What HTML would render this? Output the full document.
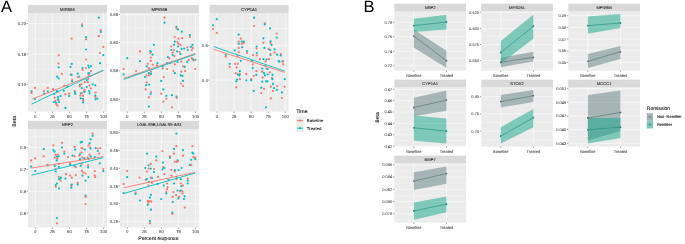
<!DOCTYPE html>
<html><head><meta charset="utf-8"><style>
html,body{margin:0;padding:0;background:#fff;}
svg{display:block;will-change:transform;text-rendering:geometricPrecision;font-family:"Liberation Sans",sans-serif;}
</style></head><body>
<svg width="685" height="244" viewBox="0 0 685 244">
<rect width="685" height="244" fill="#fff"/>

<g>
<rect x="27.90" y="13.10" width="79.00" height="98.50" fill="#EBEBEB" />
<clipPath id="cA00"><rect x="27.9" y="13.1" width="79.0" height="98.5"/></clipPath>
<g clip-path="url(#cA00)">
<line x1="27.90" y1="38.88" x2="106.90" y2="38.88" stroke="#fff" stroke-width="0.3" />
<line x1="27.90" y1="69.23" x2="106.90" y2="69.23" stroke="#fff" stroke-width="0.3" />
<line x1="27.90" y1="99.58" x2="106.90" y2="99.58" stroke="#fff" stroke-width="0.3" />
<line x1="27.90" y1="23.70" x2="106.90" y2="23.70" stroke="#fff" stroke-width="0.6" />
<line x1="27.90" y1="54.05" x2="106.90" y2="54.05" stroke="#fff" stroke-width="0.6" />
<line x1="27.90" y1="84.40" x2="106.90" y2="84.40" stroke="#fff" stroke-width="0.6" />
<line x1="43.84" y1="13.10" x2="43.84" y2="111.60" stroke="#fff" stroke-width="0.3" />
<line x1="60.91" y1="13.10" x2="60.91" y2="111.60" stroke="#fff" stroke-width="0.3" />
<line x1="77.99" y1="13.10" x2="77.99" y2="111.60" stroke="#fff" stroke-width="0.3" />
<line x1="95.06" y1="13.10" x2="95.06" y2="111.60" stroke="#fff" stroke-width="0.3" />
<line x1="35.30" y1="13.10" x2="35.30" y2="111.60" stroke="#fff" stroke-width="0.6" />
<line x1="52.38" y1="13.10" x2="52.38" y2="111.60" stroke="#fff" stroke-width="0.6" />
<line x1="69.45" y1="13.10" x2="69.45" y2="111.60" stroke="#fff" stroke-width="0.6" />
<line x1="86.53" y1="13.10" x2="86.53" y2="111.60" stroke="#fff" stroke-width="0.6" />
<line x1="103.60" y1="13.10" x2="103.60" y2="111.60" stroke="#fff" stroke-width="0.6" />
<circle cx="98.8" cy="17.7" r="1.1" fill="#00BFC4"/>
<circle cx="82.0" cy="24.3" r="1.1" fill="#F8766D"/>
<circle cx="82.0" cy="26.0" r="1.1" fill="#00BFC4"/>
<circle cx="100.8" cy="30.1" r="1.1" fill="#F8766D"/>
<circle cx="100.8" cy="31.9" r="1.1" fill="#00BFC4"/>
<circle cx="98.8" cy="36.2" r="1.1" fill="#F8766D"/>
<circle cx="86.1" cy="37.2" r="1.1" fill="#00BFC4"/>
<circle cx="71.7" cy="38.7" r="1.1" fill="#F8766D"/>
<circle cx="86.1" cy="39.3" r="1.1" fill="#F8766D"/>
<circle cx="103.3" cy="46.9" r="1.1" fill="#F8766D"/>
<circle cx="86.1" cy="49.5" r="1.1" fill="#00BFC4"/>
<circle cx="100.0" cy="53.0" r="1.1" fill="#F8766D"/>
<circle cx="103.3" cy="55.1" r="1.1" fill="#00BFC4"/>
<circle cx="58.8" cy="55.3" r="1.1" fill="#F8766D"/>
<circle cx="86.1" cy="59.6" r="1.1" fill="#F8766D"/>
<circle cx="58.5" cy="63.5" r="1.1" fill="#F8766D"/>
<circle cx="58.7" cy="67.3" r="1.1" fill="#00BFC4"/>
<circle cx="61.8" cy="73.9" r="1.1" fill="#F8766D"/>
<circle cx="57.1" cy="76.7" r="1.1" fill="#00BFC4"/>
<circle cx="58.7" cy="78.3" r="1.1" fill="#00BFC4"/>
<circle cx="64.3" cy="85.6" r="1.1" fill="#F8766D"/>
<circle cx="71.8" cy="63.9" r="1.1" fill="#00BFC4"/>
<circle cx="70.5" cy="66.9" r="1.1" fill="#00BFC4"/>
<circle cx="100.1" cy="63.2" r="1.1" fill="#00BFC4"/>
<circle cx="88.3" cy="65.5" r="1.1" fill="#00BFC4"/>
<circle cx="91.0" cy="66.2" r="1.1" fill="#00BFC4"/>
<circle cx="88.9" cy="67.5" r="1.1" fill="#00BFC4"/>
<circle cx="82.5" cy="68.0" r="1.1" fill="#00BFC4"/>
<circle cx="86.0" cy="68.0" r="1.1" fill="#F8766D"/>
<circle cx="82.5" cy="69.9" r="1.1" fill="#F8766D"/>
<circle cx="91.0" cy="70.9" r="1.1" fill="#F8766D"/>
<circle cx="77.7" cy="73.7" r="1.1" fill="#00BFC4"/>
<circle cx="70.7" cy="74.4" r="1.1" fill="#F8766D"/>
<circle cx="71.5" cy="74.9" r="1.1" fill="#00BFC4"/>
<circle cx="88.3" cy="73.7" r="1.1" fill="#00BFC4"/>
<circle cx="89.4" cy="73.0" r="1.1" fill="#00BFC4"/>
<circle cx="88.9" cy="74.9" r="1.1" fill="#F8766D"/>
<circle cx="79.3" cy="76.5" r="1.1" fill="#00BFC4"/>
<circle cx="77.7" cy="77.3" r="1.1" fill="#F8766D"/>
<circle cx="72.1" cy="80.0" r="1.1" fill="#F8766D"/>
<circle cx="72.1" cy="81.3" r="1.1" fill="#00BFC4"/>
<circle cx="88.3" cy="79.0" r="1.1" fill="#F8766D"/>
<circle cx="86.7" cy="80.1" r="1.1" fill="#00BFC4"/>
<circle cx="87.8" cy="81.9" r="1.1" fill="#F8766D"/>
<circle cx="84.6" cy="82.2" r="1.1" fill="#F8766D"/>
<circle cx="79.8" cy="85.1" r="1.1" fill="#00BFC4"/>
<circle cx="81.4" cy="84.3" r="1.1" fill="#F8766D"/>
<circle cx="89.4" cy="85.6" r="1.1" fill="#F8766D"/>
<circle cx="92.6" cy="84.3" r="1.1" fill="#00BFC4"/>
<circle cx="95.3" cy="85.4" r="1.1" fill="#00BFC4"/>
<circle cx="31.5" cy="91.3" r="1.1" fill="#00BFC4"/>
<circle cx="31.5" cy="92.9" r="1.1" fill="#F8766D"/>
<circle cx="35.0" cy="87.9" r="1.1" fill="#F8766D"/>
<circle cx="44.1" cy="90.8" r="1.1" fill="#F8766D"/>
<circle cx="44.1" cy="93.5" r="1.1" fill="#00BFC4"/>
<circle cx="47.8" cy="87.9" r="1.1" fill="#F8766D"/>
<circle cx="47.8" cy="91.5" r="1.1" fill="#00BFC4"/>
<circle cx="53.1" cy="89.2" r="1.1" fill="#F8766D"/>
<circle cx="57.9" cy="91.9" r="1.1" fill="#F8766D"/>
<circle cx="56.9" cy="91.1" r="1.1" fill="#00BFC4"/>
<circle cx="54.2" cy="94.0" r="1.1" fill="#00BFC4"/>
<circle cx="63.8" cy="90.8" r="1.1" fill="#00BFC4"/>
<circle cx="65.4" cy="94.3" r="1.1" fill="#F8766D"/>
<circle cx="60.6" cy="96.1" r="1.1" fill="#00BFC4"/>
<circle cx="35.0" cy="99.0" r="1.1" fill="#00BFC4"/>
<circle cx="54.7" cy="97.7" r="1.1" fill="#F8766D"/>
<circle cx="57.9" cy="97.2" r="1.1" fill="#00BFC4"/>
<circle cx="58.5" cy="99.7" r="1.1" fill="#F8766D"/>
<circle cx="57.9" cy="99.7" r="1.1" fill="#00BFC4"/>
<circle cx="55.3" cy="100.9" r="1.1" fill="#F8766D"/>
<circle cx="53.7" cy="102.0" r="1.1" fill="#00BFC4"/>
<circle cx="59.0" cy="102.0" r="1.1" fill="#00BFC4"/>
<circle cx="55.8" cy="102.5" r="1.1" fill="#00BFC4"/>
<circle cx="56.3" cy="104.1" r="1.1" fill="#F8766D"/>
<circle cx="57.4" cy="105.7" r="1.1" fill="#F8766D"/>
<circle cx="65.4" cy="107.9" r="1.1" fill="#00BFC4"/>
<circle cx="67.5" cy="86.5" r="1.1" fill="#00BFC4"/>
<circle cx="79.8" cy="86.5" r="1.1" fill="#F8766D"/>
<circle cx="81.9" cy="88.1" r="1.1" fill="#00BFC4"/>
<circle cx="86.7" cy="87.1" r="1.1" fill="#00BFC4"/>
<circle cx="91.0" cy="88.3" r="1.1" fill="#F8766D"/>
<circle cx="84.6" cy="89.7" r="1.1" fill="#F8766D"/>
<circle cx="84.1" cy="91.3" r="1.1" fill="#F8766D"/>
<circle cx="84.6" cy="91.9" r="1.1" fill="#00BFC4"/>
<circle cx="74.7" cy="91.1" r="1.1" fill="#F8766D"/>
<circle cx="75.0" cy="92.6" r="1.1" fill="#00BFC4"/>
<circle cx="75.3" cy="94.0" r="1.1" fill="#00BFC4"/>
<circle cx="69.1" cy="93.7" r="1.1" fill="#F8766D"/>
<circle cx="69.1" cy="96.1" r="1.1" fill="#00BFC4"/>
<circle cx="89.2" cy="91.1" r="1.1" fill="#00BFC4"/>
<circle cx="89.6" cy="93.3" r="1.1" fill="#00BFC4"/>
<circle cx="80.9" cy="93.3" r="1.1" fill="#00BFC4"/>
<circle cx="81.9" cy="93.3" r="1.1" fill="#F8766D"/>
<circle cx="80.3" cy="95.6" r="1.1" fill="#F8766D"/>
<circle cx="83.0" cy="95.8" r="1.1" fill="#F8766D"/>
<circle cx="80.7" cy="98.3" r="1.1" fill="#00BFC4"/>
<circle cx="83.0" cy="98.8" r="1.1" fill="#00BFC4"/>
<circle cx="83.0" cy="100.7" r="1.1" fill="#F8766D"/>
<circle cx="83.0" cy="102.5" r="1.1" fill="#00BFC4"/>
<circle cx="95.6" cy="92.6" r="1.1" fill="#F8766D"/>
<circle cx="95.3" cy="95.6" r="1.1" fill="#00BFC4"/>
<circle cx="95.3" cy="97.2" r="1.1" fill="#F8766D"/>
<circle cx="95.6" cy="99.3" r="1.1" fill="#00BFC4"/>
<circle cx="97.4" cy="98.6" r="1.1" fill="#00BFC4"/>
<line x1="31.80" y1="99.30" x2="103.30" y2="70.70" stroke="#F8766D" stroke-width="0.9" />
<line x1="31.50" y1="104.10" x2="103.30" y2="70.10" stroke="#00BFC4" stroke-width="0.9" />
</g>
<rect x="27.90" y="4.90" width="79.00" height="8.20" fill="#D9D9D9" />
<text x="67.40" y="10.50" font-size="4.2" fill="#1A1A1A" stroke="#1A1A1A" stroke-width="0.07" text-anchor="middle" >MIR596</text>
<line x1="26.60" y1="23.70" x2="27.90" y2="23.70" stroke="#555" stroke-width="0.6" />
<text x="26.10" y="25.20" font-size="4.3" fill="#4D4D4D" stroke="#4D4D4D" stroke-width="0.07" text-anchor="end" >0.20</text>
<line x1="26.60" y1="54.00" x2="27.90" y2="54.00" stroke="#555" stroke-width="0.6" />
<text x="26.10" y="55.50" font-size="4.3" fill="#4D4D4D" stroke="#4D4D4D" stroke-width="0.07" text-anchor="end" >0.15</text>
<line x1="26.60" y1="84.40" x2="27.90" y2="84.40" stroke="#555" stroke-width="0.6" />
<text x="26.10" y="85.90" font-size="4.3" fill="#4D4D4D" stroke="#4D4D4D" stroke-width="0.07" text-anchor="end" >0.10</text>
<line x1="35.30" y1="111.60" x2="35.30" y2="112.90" stroke="#555" stroke-width="0.6" />
<text x="35.30" y="117.50" font-size="4.3" fill="#4D4D4D" stroke="#4D4D4D" stroke-width="0.07" text-anchor="middle" >0</text>
<line x1="52.38" y1="111.60" x2="52.38" y2="112.90" stroke="#555" stroke-width="0.6" />
<text x="52.38" y="117.50" font-size="4.3" fill="#4D4D4D" stroke="#4D4D4D" stroke-width="0.07" text-anchor="middle" >25</text>
<line x1="69.45" y1="111.60" x2="69.45" y2="112.90" stroke="#555" stroke-width="0.6" />
<text x="69.45" y="117.50" font-size="4.3" fill="#4D4D4D" stroke="#4D4D4D" stroke-width="0.07" text-anchor="middle" >50</text>
<line x1="86.53" y1="111.60" x2="86.53" y2="112.90" stroke="#555" stroke-width="0.6" />
<text x="86.53" y="117.50" font-size="4.3" fill="#4D4D4D" stroke="#4D4D4D" stroke-width="0.07" text-anchor="middle" >75</text>
<line x1="103.60" y1="111.60" x2="103.60" y2="112.90" stroke="#555" stroke-width="0.6" />
<text x="103.60" y="117.50" font-size="4.3" fill="#4D4D4D" stroke="#4D4D4D" stroke-width="0.07" text-anchor="middle" >100</text>
</g>
<g>
<rect x="119.90" y="13.10" width="79.00" height="98.50" fill="#EBEBEB" />
<clipPath id="cA01"><rect x="119.9" y="13.1" width="79.0" height="98.5"/></clipPath>
<g clip-path="url(#cA01)">
<line x1="119.90" y1="28.53" x2="198.90" y2="28.53" stroke="#fff" stroke-width="0.3" />
<line x1="119.90" y1="56.80" x2="198.90" y2="56.80" stroke="#fff" stroke-width="0.3" />
<line x1="119.90" y1="85.07" x2="198.90" y2="85.07" stroke="#fff" stroke-width="0.3" />
<line x1="119.90" y1="14.40" x2="198.90" y2="14.40" stroke="#fff" stroke-width="0.6" />
<line x1="119.90" y1="42.67" x2="198.90" y2="42.67" stroke="#fff" stroke-width="0.6" />
<line x1="119.90" y1="70.93" x2="198.90" y2="70.93" stroke="#fff" stroke-width="0.6" />
<line x1="119.90" y1="99.20" x2="198.90" y2="99.20" stroke="#fff" stroke-width="0.6" />
<line x1="135.84" y1="13.10" x2="135.84" y2="111.60" stroke="#fff" stroke-width="0.3" />
<line x1="152.91" y1="13.10" x2="152.91" y2="111.60" stroke="#fff" stroke-width="0.3" />
<line x1="169.99" y1="13.10" x2="169.99" y2="111.60" stroke="#fff" stroke-width="0.3" />
<line x1="187.06" y1="13.10" x2="187.06" y2="111.60" stroke="#fff" stroke-width="0.3" />
<line x1="127.30" y1="13.10" x2="127.30" y2="111.60" stroke="#fff" stroke-width="0.6" />
<line x1="144.38" y1="13.10" x2="144.38" y2="111.60" stroke="#fff" stroke-width="0.6" />
<line x1="161.45" y1="13.10" x2="161.45" y2="111.60" stroke="#fff" stroke-width="0.6" />
<line x1="178.53" y1="13.10" x2="178.53" y2="111.60" stroke="#fff" stroke-width="0.6" />
<line x1="195.60" y1="13.10" x2="195.60" y2="111.60" stroke="#fff" stroke-width="0.6" />
<circle cx="164.5" cy="17.7" r="1.1" fill="#F8766D"/>
<circle cx="164.5" cy="22.7" r="1.1" fill="#00BFC4"/>
<circle cx="176.4" cy="26.8" r="1.1" fill="#00BFC4"/>
<circle cx="176.4" cy="28.4" r="1.1" fill="#F8766D"/>
<circle cx="178.1" cy="29.4" r="1.1" fill="#00BFC4"/>
<circle cx="181.8" cy="31.7" r="1.1" fill="#00BFC4"/>
<circle cx="189.8" cy="35.0" r="1.1" fill="#00BFC4"/>
<circle cx="189.8" cy="37.0" r="1.1" fill="#F8766D"/>
<circle cx="174.8" cy="37.0" r="1.1" fill="#F8766D"/>
<circle cx="178.5" cy="38.7" r="1.1" fill="#F8766D"/>
<circle cx="182.2" cy="38.1" r="1.1" fill="#F8766D"/>
<circle cx="174.8" cy="41.7" r="1.1" fill="#00BFC4"/>
<circle cx="177.5" cy="42.4" r="1.1" fill="#F8766D"/>
<circle cx="178.5" cy="43.8" r="1.1" fill="#F8766D"/>
<circle cx="153.9" cy="44.8" r="1.1" fill="#00BFC4"/>
<circle cx="171.3" cy="46.5" r="1.1" fill="#F8766D"/>
<circle cx="174.0" cy="44.8" r="1.1" fill="#00BFC4"/>
<circle cx="180.5" cy="45.2" r="1.1" fill="#F8766D"/>
<circle cx="178.1" cy="46.5" r="1.1" fill="#00BFC4"/>
<circle cx="181.6" cy="48.9" r="1.1" fill="#00BFC4"/>
<circle cx="184.2" cy="48.5" r="1.1" fill="#00BFC4"/>
<circle cx="187.3" cy="47.3" r="1.1" fill="#F8766D"/>
<circle cx="192.4" cy="44.8" r="1.1" fill="#00BFC4"/>
<circle cx="192.8" cy="47.9" r="1.1" fill="#F8766D"/>
<circle cx="190.8" cy="46.9" r="1.1" fill="#00BFC4"/>
<circle cx="187.7" cy="50.0" r="1.1" fill="#00BFC4"/>
<circle cx="191.8" cy="50.0" r="1.1" fill="#F8766D"/>
<circle cx="171.3" cy="50.0" r="1.1" fill="#00BFC4"/>
<circle cx="174.0" cy="50.0" r="1.1" fill="#F8766D"/>
<circle cx="177.1" cy="51.4" r="1.1" fill="#00BFC4"/>
<circle cx="179.5" cy="52.0" r="1.1" fill="#F8766D"/>
<circle cx="180.5" cy="54.1" r="1.1" fill="#00BFC4"/>
<circle cx="172.7" cy="52.6" r="1.1" fill="#F8766D"/>
<circle cx="172.7" cy="55.1" r="1.1" fill="#00BFC4"/>
<circle cx="174.4" cy="56.1" r="1.1" fill="#F8766D"/>
<circle cx="139.9" cy="51.4" r="1.1" fill="#F8766D"/>
<circle cx="150.2" cy="51.0" r="1.1" fill="#00BFC4"/>
<circle cx="150.8" cy="52.0" r="1.1" fill="#00BFC4"/>
<circle cx="150.2" cy="53.0" r="1.1" fill="#F8766D"/>
<circle cx="152.4" cy="54.7" r="1.1" fill="#00BFC4"/>
<circle cx="150.8" cy="57.5" r="1.1" fill="#F8766D"/>
<circle cx="150.8" cy="60.8" r="1.1" fill="#F8766D"/>
<circle cx="127.2" cy="58.2" r="1.1" fill="#00BFC4"/>
<circle cx="139.9" cy="61.2" r="1.1" fill="#00BFC4"/>
<circle cx="167.8" cy="57.1" r="1.1" fill="#00BFC4"/>
<circle cx="169.3" cy="58.2" r="1.1" fill="#F8766D"/>
<circle cx="192.8" cy="59.2" r="1.1" fill="#00BFC4"/>
<circle cx="195.3" cy="59.8" r="1.1" fill="#00BFC4"/>
<circle cx="191.8" cy="58.2" r="1.1" fill="#F8766D"/>
<circle cx="188.7" cy="60.2" r="1.1" fill="#F8766D"/>
<circle cx="147.8" cy="63.8" r="1.1" fill="#F8766D"/>
<circle cx="146.7" cy="66.4" r="1.1" fill="#00BFC4"/>
<circle cx="152.7" cy="64.7" r="1.1" fill="#F8766D"/>
<circle cx="157.4" cy="63.2" r="1.1" fill="#00BFC4"/>
<circle cx="157.0" cy="65.3" r="1.1" fill="#F8766D"/>
<circle cx="162.7" cy="66.4" r="1.1" fill="#00BFC4"/>
<circle cx="162.7" cy="68.5" r="1.1" fill="#F8766D"/>
<circle cx="167.0" cy="69.0" r="1.1" fill="#F8766D"/>
<circle cx="167.0" cy="63.2" r="1.1" fill="#00BFC4"/>
<circle cx="170.2" cy="63.2" r="1.1" fill="#F8766D"/>
<circle cx="174.9" cy="64.3" r="1.1" fill="#F8766D"/>
<circle cx="177.6" cy="62.1" r="1.1" fill="#00BFC4"/>
<circle cx="181.3" cy="61.7" r="1.1" fill="#F8766D"/>
<circle cx="187.2" cy="62.1" r="1.1" fill="#00BFC4"/>
<circle cx="193.6" cy="60.3" r="1.1" fill="#F8766D"/>
<circle cx="183.0" cy="66.4" r="1.1" fill="#F8766D"/>
<circle cx="184.7" cy="66.8" r="1.1" fill="#00BFC4"/>
<circle cx="123.7" cy="69.0" r="1.1" fill="#F8766D"/>
<circle cx="123.7" cy="74.5" r="1.1" fill="#00BFC4"/>
<circle cx="136.1" cy="71.1" r="1.1" fill="#F8766D"/>
<circle cx="148.9" cy="68.1" r="1.1" fill="#F8766D"/>
<circle cx="151.0" cy="71.7" r="1.1" fill="#F8766D"/>
<circle cx="148.9" cy="73.2" r="1.1" fill="#00BFC4"/>
<circle cx="151.0" cy="73.9" r="1.1" fill="#00BFC4"/>
<circle cx="146.7" cy="75.4" r="1.1" fill="#F8766D"/>
<circle cx="148.9" cy="75.4" r="1.1" fill="#F8766D"/>
<circle cx="145.0" cy="77.1" r="1.1" fill="#00BFC4"/>
<circle cx="173.4" cy="71.1" r="1.1" fill="#F8766D"/>
<circle cx="174.9" cy="73.2" r="1.1" fill="#00BFC4"/>
<circle cx="181.3" cy="71.7" r="1.1" fill="#F8766D"/>
<circle cx="185.1" cy="71.1" r="1.1" fill="#F8766D"/>
<circle cx="180.8" cy="75.4" r="1.1" fill="#00BFC4"/>
<circle cx="182.5" cy="76.0" r="1.1" fill="#00BFC4"/>
<circle cx="195.3" cy="69.0" r="1.1" fill="#F8766D"/>
<circle cx="163.8" cy="77.1" r="1.1" fill="#F8766D"/>
<circle cx="161.2" cy="80.9" r="1.1" fill="#00BFC4"/>
<circle cx="183.0" cy="80.9" r="1.1" fill="#00BFC4"/>
<circle cx="180.8" cy="83.5" r="1.1" fill="#F8766D"/>
<circle cx="183.0" cy="86.0" r="1.1" fill="#F8766D"/>
<circle cx="146.7" cy="82.4" r="1.1" fill="#F8766D"/>
<circle cx="146.3" cy="85.2" r="1.1" fill="#00BFC4"/>
<circle cx="149.3" cy="84.5" r="1.1" fill="#00BFC4"/>
<circle cx="145.7" cy="89.4" r="1.1" fill="#F8766D"/>
<circle cx="151.0" cy="92.0" r="1.1" fill="#F8766D"/>
<circle cx="150.6" cy="94.1" r="1.1" fill="#00BFC4"/>
<circle cx="148.9" cy="97.3" r="1.1" fill="#F8766D"/>
<circle cx="163.3" cy="89.4" r="1.1" fill="#00BFC4"/>
<circle cx="161.2" cy="93.7" r="1.1" fill="#F8766D"/>
<circle cx="166.3" cy="95.8" r="1.1" fill="#00BFC4"/>
<circle cx="166.3" cy="98.8" r="1.1" fill="#F8766D"/>
<circle cx="171.9" cy="95.2" r="1.1" fill="#00BFC4"/>
<circle cx="176.6" cy="96.7" r="1.1" fill="#00BFC4"/>
<circle cx="176.6" cy="98.0" r="1.1" fill="#F8766D"/>
<circle cx="163.3" cy="101.6" r="1.1" fill="#F8766D"/>
<circle cx="148.9" cy="106.5" r="1.1" fill="#00BFC4"/>
<circle cx="171.9" cy="107.3" r="1.1" fill="#F8766D"/>
<line x1="123.70" y1="78.30" x2="195.30" y2="53.60" stroke="#F8766D" stroke-width="0.9" />
<line x1="123.70" y1="79.40" x2="195.30" y2="54.30" stroke="#00BFC4" stroke-width="0.9" />
</g>
<rect x="119.90" y="4.90" width="79.00" height="8.20" fill="#D9D9D9" />
<text x="159.40" y="10.50" font-size="4.2" fill="#1A1A1A" stroke="#1A1A1A" stroke-width="0.07" text-anchor="middle" >MPIG6B</text>
<line x1="118.60" y1="14.40" x2="119.90" y2="14.40" stroke="#555" stroke-width="0.6" />
<text x="118.10" y="15.90" font-size="4.3" fill="#4D4D4D" stroke="#4D4D4D" stroke-width="0.07" text-anchor="end" >0.65</text>
<line x1="118.60" y1="42.60" x2="119.90" y2="42.60" stroke="#555" stroke-width="0.6" />
<text x="118.10" y="44.10" font-size="4.3" fill="#4D4D4D" stroke="#4D4D4D" stroke-width="0.07" text-anchor="end" >0.60</text>
<line x1="118.60" y1="70.90" x2="119.90" y2="70.90" stroke="#555" stroke-width="0.6" />
<text x="118.10" y="72.40" font-size="4.3" fill="#4D4D4D" stroke="#4D4D4D" stroke-width="0.07" text-anchor="end" >0.55</text>
<line x1="118.60" y1="99.20" x2="119.90" y2="99.20" stroke="#555" stroke-width="0.6" />
<text x="118.10" y="100.70" font-size="4.3" fill="#4D4D4D" stroke="#4D4D4D" stroke-width="0.07" text-anchor="end" >0.50</text>
<line x1="127.30" y1="111.60" x2="127.30" y2="112.90" stroke="#555" stroke-width="0.6" />
<text x="127.30" y="117.50" font-size="4.3" fill="#4D4D4D" stroke="#4D4D4D" stroke-width="0.07" text-anchor="middle" >0</text>
<line x1="144.38" y1="111.60" x2="144.38" y2="112.90" stroke="#555" stroke-width="0.6" />
<text x="144.38" y="117.50" font-size="4.3" fill="#4D4D4D" stroke="#4D4D4D" stroke-width="0.07" text-anchor="middle" >25</text>
<line x1="161.45" y1="111.60" x2="161.45" y2="112.90" stroke="#555" stroke-width="0.6" />
<text x="161.45" y="117.50" font-size="4.3" fill="#4D4D4D" stroke="#4D4D4D" stroke-width="0.07" text-anchor="middle" >50</text>
<line x1="178.53" y1="111.60" x2="178.53" y2="112.90" stroke="#555" stroke-width="0.6" />
<text x="178.53" y="117.50" font-size="4.3" fill="#4D4D4D" stroke="#4D4D4D" stroke-width="0.07" text-anchor="middle" >75</text>
<line x1="195.60" y1="111.60" x2="195.60" y2="112.90" stroke="#555" stroke-width="0.6" />
<text x="195.60" y="117.50" font-size="4.3" fill="#4D4D4D" stroke="#4D4D4D" stroke-width="0.07" text-anchor="middle" >100</text>
</g>
<g>
<rect x="209.60" y="13.10" width="79.00" height="98.50" fill="#EBEBEB" />
<clipPath id="cA02"><rect x="209.6" y="13.1" width="79.0" height="98.5"/></clipPath>
<g clip-path="url(#cA02)">
<line x1="209.60" y1="28.50" x2="288.60" y2="28.50" stroke="#fff" stroke-width="0.3" />
<line x1="209.60" y1="62.90" x2="288.60" y2="62.90" stroke="#fff" stroke-width="0.3" />
<line x1="209.60" y1="97.30" x2="288.60" y2="97.30" stroke="#fff" stroke-width="0.3" />
<line x1="209.60" y1="45.70" x2="288.60" y2="45.70" stroke="#fff" stroke-width="0.6" />
<line x1="209.60" y1="80.10" x2="288.60" y2="80.10" stroke="#fff" stroke-width="0.6" />
<line x1="225.54" y1="13.10" x2="225.54" y2="111.60" stroke="#fff" stroke-width="0.3" />
<line x1="242.61" y1="13.10" x2="242.61" y2="111.60" stroke="#fff" stroke-width="0.3" />
<line x1="259.69" y1="13.10" x2="259.69" y2="111.60" stroke="#fff" stroke-width="0.3" />
<line x1="276.76" y1="13.10" x2="276.76" y2="111.60" stroke="#fff" stroke-width="0.3" />
<line x1="217.00" y1="13.10" x2="217.00" y2="111.60" stroke="#fff" stroke-width="0.6" />
<line x1="234.07" y1="13.10" x2="234.07" y2="111.60" stroke="#fff" stroke-width="0.6" />
<line x1="251.15" y1="13.10" x2="251.15" y2="111.60" stroke="#fff" stroke-width="0.6" />
<line x1="268.23" y1="13.10" x2="268.23" y2="111.60" stroke="#fff" stroke-width="0.6" />
<line x1="285.30" y1="13.10" x2="285.30" y2="111.60" stroke="#fff" stroke-width="0.6" />
<circle cx="216.8" cy="19.2" r="1.1" fill="#00BFC4"/>
<circle cx="213.1" cy="25.3" r="1.1" fill="#00BFC4"/>
<circle cx="213.1" cy="29.0" r="1.1" fill="#F8766D"/>
<circle cx="216.8" cy="32.9" r="1.1" fill="#F8766D"/>
<circle cx="254.1" cy="17.7" r="1.1" fill="#00BFC4"/>
<circle cx="254.1" cy="26.0" r="1.1" fill="#F8766D"/>
<circle cx="264.8" cy="23.3" r="1.1" fill="#F8766D"/>
<circle cx="264.8" cy="24.3" r="1.1" fill="#00BFC4"/>
<circle cx="270.1" cy="28.4" r="1.1" fill="#00BFC4"/>
<circle cx="276.7" cy="33.5" r="1.1" fill="#F8766D"/>
<circle cx="276.7" cy="37.6" r="1.1" fill="#00BFC4"/>
<circle cx="238.7" cy="34.6" r="1.1" fill="#00BFC4"/>
<circle cx="240.8" cy="38.7" r="1.1" fill="#F8766D"/>
<circle cx="238.7" cy="41.7" r="1.1" fill="#F8766D"/>
<circle cx="238.7" cy="43.8" r="1.1" fill="#00BFC4"/>
<circle cx="241.8" cy="41.7" r="1.1" fill="#00BFC4"/>
<circle cx="243.9" cy="41.7" r="1.1" fill="#00BFC4"/>
<circle cx="241.8" cy="43.8" r="1.1" fill="#F8766D"/>
<circle cx="243.5" cy="43.2" r="1.1" fill="#F8766D"/>
<circle cx="263.4" cy="38.3" r="1.1" fill="#00BFC4"/>
<circle cx="263.4" cy="42.8" r="1.1" fill="#F8766D"/>
<circle cx="270.5" cy="41.3" r="1.1" fill="#00BFC4"/>
<circle cx="270.5" cy="42.8" r="1.1" fill="#F8766D"/>
<circle cx="271.6" cy="44.8" r="1.1" fill="#00BFC4"/>
<circle cx="238.7" cy="47.9" r="1.1" fill="#F8766D"/>
<circle cx="242.2" cy="47.3" r="1.1" fill="#00BFC4"/>
<circle cx="234.6" cy="50.4" r="1.1" fill="#00BFC4"/>
<circle cx="238.7" cy="52.0" r="1.1" fill="#F8766D"/>
<circle cx="256.6" cy="46.5" r="1.1" fill="#00BFC4"/>
<circle cx="256.6" cy="48.5" r="1.1" fill="#F8766D"/>
<circle cx="264.4" cy="47.9" r="1.1" fill="#00BFC4"/>
<circle cx="268.5" cy="48.9" r="1.1" fill="#F8766D"/>
<circle cx="270.1" cy="49.9" r="1.1" fill="#00BFC4"/>
<circle cx="274.6" cy="49.3" r="1.1" fill="#00BFC4"/>
<circle cx="274.6" cy="52.6" r="1.1" fill="#F8766D"/>
<circle cx="247.0" cy="51.0" r="1.1" fill="#00BFC4"/>
<circle cx="247.0" cy="53.0" r="1.1" fill="#F8766D"/>
<circle cx="256.8" cy="53.0" r="1.1" fill="#00BFC4"/>
<circle cx="256.8" cy="55.5" r="1.1" fill="#F8766D"/>
<circle cx="253.1" cy="55.1" r="1.1" fill="#F8766D"/>
<circle cx="225.8" cy="55.1" r="1.1" fill="#00BFC4"/>
<circle cx="225.8" cy="56.7" r="1.1" fill="#F8766D"/>
<circle cx="270.5" cy="55.1" r="1.1" fill="#00BFC4"/>
<circle cx="270.5" cy="54.1" r="1.1" fill="#F8766D"/>
<circle cx="277.1" cy="54.7" r="1.1" fill="#00BFC4"/>
<circle cx="280.8" cy="54.1" r="1.1" fill="#F8766D"/>
<circle cx="280.8" cy="55.5" r="1.1" fill="#00BFC4"/>
<circle cx="237.7" cy="56.1" r="1.1" fill="#F8766D"/>
<circle cx="240.8" cy="60.8" r="1.1" fill="#00BFC4"/>
<circle cx="252.1" cy="60.8" r="1.1" fill="#00BFC4"/>
<circle cx="259.9" cy="59.2" r="1.1" fill="#F8766D"/>
<circle cx="263.4" cy="59.2" r="1.1" fill="#00BFC4"/>
<circle cx="266.4" cy="59.6" r="1.1" fill="#00BFC4"/>
<circle cx="268.9" cy="59.2" r="1.1" fill="#F8766D"/>
<circle cx="278.7" cy="61.2" r="1.1" fill="#00BFC4"/>
<circle cx="282.8" cy="61.2" r="1.1" fill="#00BFC4"/>
<circle cx="229.7" cy="63.8" r="1.1" fill="#00BFC4"/>
<circle cx="229.7" cy="66.8" r="1.1" fill="#F8766D"/>
<circle cx="235.0" cy="63.8" r="1.1" fill="#F8766D"/>
<circle cx="237.8" cy="63.8" r="1.1" fill="#F8766D"/>
<circle cx="236.7" cy="67.5" r="1.1" fill="#F8766D"/>
<circle cx="239.9" cy="71.1" r="1.1" fill="#00BFC4"/>
<circle cx="235.7" cy="73.2" r="1.1" fill="#F8766D"/>
<circle cx="237.8" cy="74.5" r="1.1" fill="#00BFC4"/>
<circle cx="239.9" cy="73.9" r="1.1" fill="#F8766D"/>
<circle cx="239.3" cy="75.4" r="1.1" fill="#00BFC4"/>
<circle cx="239.9" cy="79.2" r="1.1" fill="#F8766D"/>
<circle cx="237.1" cy="79.6" r="1.1" fill="#00BFC4"/>
<circle cx="236.3" cy="81.3" r="1.1" fill="#00BFC4"/>
<circle cx="236.3" cy="87.3" r="1.1" fill="#F8766D"/>
<circle cx="246.3" cy="73.9" r="1.1" fill="#F8766D"/>
<circle cx="246.3" cy="80.3" r="1.1" fill="#00BFC4"/>
<circle cx="251.2" cy="79.2" r="1.1" fill="#F8766D"/>
<circle cx="251.2" cy="80.3" r="1.1" fill="#00BFC4"/>
<circle cx="252.7" cy="64.3" r="1.1" fill="#F8766D"/>
<circle cx="252.7" cy="68.1" r="1.1" fill="#00BFC4"/>
<circle cx="253.8" cy="76.0" r="1.1" fill="#F8766D"/>
<circle cx="256.3" cy="71.1" r="1.1" fill="#F8766D"/>
<circle cx="256.3" cy="74.9" r="1.1" fill="#00BFC4"/>
<circle cx="261.9" cy="71.7" r="1.1" fill="#F8766D"/>
<circle cx="262.3" cy="68.5" r="1.1" fill="#00BFC4"/>
<circle cx="262.7" cy="77.5" r="1.1" fill="#F8766D"/>
<circle cx="264.0" cy="73.2" r="1.1" fill="#00BFC4"/>
<circle cx="264.9" cy="75.4" r="1.1" fill="#00BFC4"/>
<circle cx="265.5" cy="61.6" r="1.1" fill="#F8766D"/>
<circle cx="265.5" cy="66.0" r="1.1" fill="#00BFC4"/>
<circle cx="266.6" cy="68.5" r="1.1" fill="#F8766D"/>
<circle cx="267.6" cy="69.0" r="1.1" fill="#00BFC4"/>
<circle cx="267.6" cy="74.5" r="1.1" fill="#00BFC4"/>
<circle cx="269.8" cy="72.4" r="1.1" fill="#F8766D"/>
<circle cx="272.5" cy="74.9" r="1.1" fill="#00BFC4"/>
<circle cx="271.9" cy="78.1" r="1.1" fill="#F8766D"/>
<circle cx="272.5" cy="79.2" r="1.1" fill="#00BFC4"/>
<circle cx="262.3" cy="81.7" r="1.1" fill="#00BFC4"/>
<circle cx="266.1" cy="81.3" r="1.1" fill="#00BFC4"/>
<circle cx="267.6" cy="81.3" r="1.1" fill="#00BFC4"/>
<circle cx="273.0" cy="83.9" r="1.1" fill="#00BFC4"/>
<circle cx="270.8" cy="86.7" r="1.1" fill="#F8766D"/>
<circle cx="274.0" cy="88.1" r="1.1" fill="#00BFC4"/>
<circle cx="273.0" cy="90.9" r="1.1" fill="#F8766D"/>
<circle cx="277.2" cy="86.0" r="1.1" fill="#F8766D"/>
<circle cx="276.8" cy="89.9" r="1.1" fill="#00BFC4"/>
<circle cx="282.6" cy="61.7" r="1.1" fill="#F8766D"/>
<circle cx="279.4" cy="61.7" r="1.1" fill="#00BFC4"/>
<circle cx="283.2" cy="64.3" r="1.1" fill="#F8766D"/>
<circle cx="284.7" cy="79.2" r="1.1" fill="#00BFC4"/>
<circle cx="284.7" cy="86.7" r="1.1" fill="#F8766D"/>
<circle cx="281.9" cy="92.4" r="1.1" fill="#00BFC4"/>
<circle cx="281.9" cy="98.0" r="1.1" fill="#F8766D"/>
<circle cx="261.2" cy="87.7" r="1.1" fill="#00BFC4"/>
<circle cx="264.0" cy="88.8" r="1.1" fill="#F8766D"/>
<circle cx="261.2" cy="93.0" r="1.1" fill="#F8766D"/>
<circle cx="253.8" cy="90.9" r="1.1" fill="#00BFC4"/>
<circle cx="270.8" cy="98.4" r="1.1" fill="#F8766D"/>
<circle cx="266.1" cy="107.3" r="1.1" fill="#00BFC4"/>
<line x1="213.50" y1="49.30" x2="284.70" y2="72.40" stroke="#F8766D" stroke-width="0.9" />
<line x1="213.50" y1="46.50" x2="284.70" y2="71.10" stroke="#00BFC4" stroke-width="0.9" />
</g>
<rect x="209.60" y="4.90" width="79.00" height="8.20" fill="#D9D9D9" />
<text x="249.10" y="10.50" font-size="4.2" fill="#1A1A1A" stroke="#1A1A1A" stroke-width="0.07" text-anchor="middle" >CYP1A1</text>
<line x1="208.30" y1="45.70" x2="209.60" y2="45.70" stroke="#555" stroke-width="0.6" />
<text x="207.80" y="47.20" font-size="4.3" fill="#4D4D4D" stroke="#4D4D4D" stroke-width="0.07" text-anchor="end" >0.6</text>
<line x1="208.30" y1="80.10" x2="209.60" y2="80.10" stroke="#555" stroke-width="0.6" />
<text x="207.80" y="81.60" font-size="4.3" fill="#4D4D4D" stroke="#4D4D4D" stroke-width="0.07" text-anchor="end" >0.4</text>
<line x1="217.00" y1="111.60" x2="217.00" y2="112.90" stroke="#555" stroke-width="0.6" />
<text x="217.00" y="117.50" font-size="4.3" fill="#4D4D4D" stroke="#4D4D4D" stroke-width="0.07" text-anchor="middle" >0</text>
<line x1="234.07" y1="111.60" x2="234.07" y2="112.90" stroke="#555" stroke-width="0.6" />
<text x="234.07" y="117.50" font-size="4.3" fill="#4D4D4D" stroke="#4D4D4D" stroke-width="0.07" text-anchor="middle" >25</text>
<line x1="251.15" y1="111.60" x2="251.15" y2="112.90" stroke="#555" stroke-width="0.6" />
<text x="251.15" y="117.50" font-size="4.3" fill="#4D4D4D" stroke="#4D4D4D" stroke-width="0.07" text-anchor="middle" >50</text>
<line x1="268.23" y1="111.60" x2="268.23" y2="112.90" stroke="#555" stroke-width="0.6" />
<text x="268.23" y="117.50" font-size="4.3" fill="#4D4D4D" stroke="#4D4D4D" stroke-width="0.07" text-anchor="middle" >75</text>
<line x1="285.30" y1="111.60" x2="285.30" y2="112.90" stroke="#555" stroke-width="0.6" />
<text x="285.30" y="117.50" font-size="4.3" fill="#4D4D4D" stroke="#4D4D4D" stroke-width="0.07" text-anchor="middle" >100</text>
</g>
<g>
<rect x="27.90" y="129.00" width="79.00" height="98.50" fill="#EBEBEB" />
<clipPath id="cA10"><rect x="27.9" y="129.0" width="79.0" height="98.5"/></clipPath>
<g clip-path="url(#cA10)">
<line x1="27.90" y1="136.67" x2="106.90" y2="136.67" stroke="#fff" stroke-width="0.3" />
<line x1="27.90" y1="158.53" x2="106.90" y2="158.53" stroke="#fff" stroke-width="0.3" />
<line x1="27.90" y1="180.40" x2="106.90" y2="180.40" stroke="#fff" stroke-width="0.3" />
<line x1="27.90" y1="202.27" x2="106.90" y2="202.27" stroke="#fff" stroke-width="0.3" />
<line x1="27.90" y1="224.13" x2="106.90" y2="224.13" stroke="#fff" stroke-width="0.3" />
<line x1="27.90" y1="147.60" x2="106.90" y2="147.60" stroke="#fff" stroke-width="0.6" />
<line x1="27.90" y1="169.47" x2="106.90" y2="169.47" stroke="#fff" stroke-width="0.6" />
<line x1="27.90" y1="191.33" x2="106.90" y2="191.33" stroke="#fff" stroke-width="0.6" />
<line x1="27.90" y1="213.20" x2="106.90" y2="213.20" stroke="#fff" stroke-width="0.6" />
<line x1="43.84" y1="129.00" x2="43.84" y2="227.50" stroke="#fff" stroke-width="0.3" />
<line x1="60.91" y1="129.00" x2="60.91" y2="227.50" stroke="#fff" stroke-width="0.3" />
<line x1="77.99" y1="129.00" x2="77.99" y2="227.50" stroke="#fff" stroke-width="0.3" />
<line x1="95.06" y1="129.00" x2="95.06" y2="227.50" stroke="#fff" stroke-width="0.3" />
<line x1="35.30" y1="129.00" x2="35.30" y2="227.50" stroke="#fff" stroke-width="0.6" />
<line x1="52.38" y1="129.00" x2="52.38" y2="227.50" stroke="#fff" stroke-width="0.6" />
<line x1="69.45" y1="129.00" x2="69.45" y2="227.50" stroke="#fff" stroke-width="0.6" />
<line x1="86.53" y1="129.00" x2="86.53" y2="227.50" stroke="#fff" stroke-width="0.6" />
<line x1="103.60" y1="129.00" x2="103.60" y2="227.50" stroke="#fff" stroke-width="0.6" />
<circle cx="31.1" cy="160.4" r="1.1" fill="#F8766D"/>
<circle cx="31.1" cy="166.6" r="1.1" fill="#00BFC4"/>
<circle cx="35.2" cy="158.4" r="1.1" fill="#F8766D"/>
<circle cx="35.2" cy="171.1" r="1.1" fill="#00BFC4"/>
<circle cx="43.8" cy="148.9" r="1.1" fill="#00BFC4"/>
<circle cx="43.8" cy="156.3" r="1.1" fill="#F8766D"/>
<circle cx="47.5" cy="164.9" r="1.1" fill="#F8766D"/>
<circle cx="47.5" cy="165.5" r="1.1" fill="#00BFC4"/>
<circle cx="53.3" cy="145.4" r="1.1" fill="#F8766D"/>
<circle cx="53.3" cy="150.2" r="1.1" fill="#00BFC4"/>
<circle cx="54.7" cy="151.6" r="1.1" fill="#00BFC4"/>
<circle cx="54.7" cy="157.7" r="1.1" fill="#F8766D"/>
<circle cx="55.7" cy="154.7" r="1.1" fill="#F8766D"/>
<circle cx="56.7" cy="156.7" r="1.1" fill="#00BFC4"/>
<circle cx="57.8" cy="154.7" r="1.1" fill="#F8766D"/>
<circle cx="58.8" cy="156.3" r="1.1" fill="#00BFC4"/>
<circle cx="57.4" cy="158.4" r="1.1" fill="#F8766D"/>
<circle cx="56.7" cy="160.4" r="1.1" fill="#00BFC4"/>
<circle cx="54.7" cy="166.0" r="1.1" fill="#00BFC4"/>
<circle cx="58.8" cy="163.9" r="1.1" fill="#F8766D"/>
<circle cx="58.8" cy="167.0" r="1.1" fill="#00BFC4"/>
<circle cx="55.7" cy="169.0" r="1.1" fill="#F8766D"/>
<circle cx="55.7" cy="171.5" r="1.1" fill="#00BFC4"/>
<circle cx="61.9" cy="142.8" r="1.1" fill="#F8766D"/>
<circle cx="61.9" cy="147.5" r="1.1" fill="#00BFC4"/>
<circle cx="64.3" cy="151.6" r="1.1" fill="#F8766D"/>
<circle cx="64.3" cy="153.6" r="1.1" fill="#00BFC4"/>
<circle cx="68.0" cy="157.1" r="1.1" fill="#F8766D"/>
<circle cx="70.1" cy="164.9" r="1.1" fill="#00BFC4"/>
<circle cx="70.1" cy="163.3" r="1.1" fill="#F8766D"/>
<circle cx="72.5" cy="155.7" r="1.1" fill="#00BFC4"/>
<circle cx="74.6" cy="156.3" r="1.1" fill="#F8766D"/>
<circle cx="74.6" cy="146.9" r="1.1" fill="#F8766D"/>
<circle cx="75.2" cy="149.5" r="1.1" fill="#00BFC4"/>
<circle cx="74.6" cy="166.0" r="1.1" fill="#00BFC4"/>
<circle cx="75.8" cy="167.0" r="1.1" fill="#F8766D"/>
<circle cx="80.7" cy="142.4" r="1.1" fill="#00BFC4"/>
<circle cx="82.0" cy="141.9" r="1.1" fill="#00BFC4"/>
<circle cx="81.4" cy="148.1" r="1.1" fill="#F8766D"/>
<circle cx="82.8" cy="148.5" r="1.1" fill="#F8766D"/>
<circle cx="84.8" cy="149.5" r="1.1" fill="#00BFC4"/>
<circle cx="81.4" cy="152.6" r="1.1" fill="#F8766D"/>
<circle cx="79.9" cy="154.3" r="1.1" fill="#00BFC4"/>
<circle cx="79.3" cy="155.7" r="1.1" fill="#F8766D"/>
<circle cx="79.9" cy="159.2" r="1.1" fill="#00BFC4"/>
<circle cx="82.4" cy="157.7" r="1.1" fill="#F8766D"/>
<circle cx="84.4" cy="158.4" r="1.1" fill="#00BFC4"/>
<circle cx="81.4" cy="163.9" r="1.1" fill="#F8766D"/>
<circle cx="80.7" cy="166.0" r="1.1" fill="#00BFC4"/>
<circle cx="82.0" cy="170.7" r="1.1" fill="#F8766D"/>
<circle cx="83.4" cy="172.7" r="1.1" fill="#F8766D"/>
<circle cx="85.5" cy="173.5" r="1.1" fill="#F8766D"/>
<circle cx="82.4" cy="175.6" r="1.1" fill="#00BFC4"/>
<circle cx="92.6" cy="133.7" r="1.1" fill="#F8766D"/>
<circle cx="92.6" cy="135.8" r="1.1" fill="#00BFC4"/>
<circle cx="90.6" cy="139.3" r="1.1" fill="#00BFC4"/>
<circle cx="89.6" cy="143.4" r="1.1" fill="#00BFC4"/>
<circle cx="88.5" cy="145.4" r="1.1" fill="#F8766D"/>
<circle cx="90.2" cy="147.5" r="1.1" fill="#F8766D"/>
<circle cx="90.6" cy="148.5" r="1.1" fill="#00BFC4"/>
<circle cx="89.6" cy="154.7" r="1.1" fill="#F8766D"/>
<circle cx="90.6" cy="156.7" r="1.1" fill="#00BFC4"/>
<circle cx="87.5" cy="157.7" r="1.1" fill="#F8766D"/>
<circle cx="88.5" cy="158.8" r="1.1" fill="#00BFC4"/>
<circle cx="88.1" cy="165.3" r="1.1" fill="#F8766D"/>
<circle cx="88.1" cy="167.4" r="1.1" fill="#00BFC4"/>
<circle cx="95.7" cy="148.1" r="1.1" fill="#00BFC4"/>
<circle cx="97.8" cy="148.5" r="1.1" fill="#F8766D"/>
<circle cx="97.8" cy="151.0" r="1.1" fill="#00BFC4"/>
<circle cx="99.2" cy="153.6" r="1.1" fill="#F8766D"/>
<circle cx="100.4" cy="148.1" r="1.1" fill="#F8766D"/>
<circle cx="99.8" cy="163.3" r="1.1" fill="#00BFC4"/>
<circle cx="103.3" cy="169.0" r="1.1" fill="#F8766D"/>
<circle cx="103.3" cy="171.1" r="1.1" fill="#00BFC4"/>
<circle cx="94.7" cy="171.1" r="1.1" fill="#F8766D"/>
<circle cx="94.7" cy="157.1" r="1.1" fill="#00BFC4"/>
<circle cx="58.8" cy="176.8" r="1.1" fill="#F8766D"/>
<circle cx="66.0" cy="174.2" r="1.1" fill="#F8766D"/>
<circle cx="70.1" cy="175.6" r="1.1" fill="#F8766D"/>
<circle cx="75.8" cy="175.2" r="1.1" fill="#F8766D"/>
<circle cx="60.8" cy="177.6" r="1.1" fill="#00BFC4"/>
<circle cx="94.7" cy="175.6" r="1.1" fill="#F8766D"/>
<circle cx="59.0" cy="179.2" r="1.1" fill="#00BFC4"/>
<circle cx="60.7" cy="180.7" r="1.1" fill="#F8766D"/>
<circle cx="60.7" cy="178.1" r="1.1" fill="#00BFC4"/>
<circle cx="65.4" cy="178.6" r="1.1" fill="#00BFC4"/>
<circle cx="71.8" cy="177.7" r="1.1" fill="#F8766D"/>
<circle cx="56.9" cy="183.5" r="1.1" fill="#00BFC4"/>
<circle cx="55.8" cy="185.0" r="1.1" fill="#00BFC4"/>
<circle cx="55.8" cy="186.7" r="1.1" fill="#F8766D"/>
<circle cx="59.0" cy="188.4" r="1.1" fill="#00BFC4"/>
<circle cx="71.3" cy="185.6" r="1.1" fill="#F8766D"/>
<circle cx="71.8" cy="184.5" r="1.1" fill="#00BFC4"/>
<circle cx="71.3" cy="187.7" r="1.1" fill="#00BFC4"/>
<circle cx="77.7" cy="182.8" r="1.1" fill="#F8766D"/>
<circle cx="77.7" cy="184.5" r="1.1" fill="#00BFC4"/>
<circle cx="85.6" cy="180.7" r="1.1" fill="#00BFC4"/>
<circle cx="88.4" cy="177.1" r="1.1" fill="#00BFC4"/>
<circle cx="95.2" cy="177.1" r="1.1" fill="#F8766D"/>
<circle cx="85.6" cy="195.6" r="1.1" fill="#00BFC4"/>
<circle cx="85.6" cy="196.9" r="1.1" fill="#F8766D"/>
<circle cx="85.6" cy="204.1" r="1.1" fill="#F8766D"/>
<circle cx="56.9" cy="218.0" r="1.1" fill="#00BFC4"/>
<circle cx="56.9" cy="223.3" r="1.1" fill="#F8766D"/>
<line x1="31.50" y1="168.00" x2="103.30" y2="156.70" stroke="#F8766D" stroke-width="0.9" />
<line x1="31.50" y1="175.20" x2="103.30" y2="157.70" stroke="#00BFC4" stroke-width="0.9" />
</g>
<rect x="27.90" y="120.80" width="79.00" height="8.20" fill="#D9D9D9" />
<text x="67.40" y="126.40" font-size="4.2" fill="#1A1A1A" stroke="#1A1A1A" stroke-width="0.07" text-anchor="middle" >NRP2</text>
<line x1="26.60" y1="147.60" x2="27.90" y2="147.60" stroke="#555" stroke-width="0.6" />
<text x="26.10" y="149.10" font-size="4.3" fill="#4D4D4D" stroke="#4D4D4D" stroke-width="0.07" text-anchor="end" >0.8</text>
<line x1="26.60" y1="169.40" x2="27.90" y2="169.40" stroke="#555" stroke-width="0.6" />
<text x="26.10" y="170.90" font-size="4.3" fill="#4D4D4D" stroke="#4D4D4D" stroke-width="0.07" text-anchor="end" >0.7</text>
<line x1="26.60" y1="191.30" x2="27.90" y2="191.30" stroke="#555" stroke-width="0.6" />
<text x="26.10" y="192.80" font-size="4.3" fill="#4D4D4D" stroke="#4D4D4D" stroke-width="0.07" text-anchor="end" >0.6</text>
<line x1="26.60" y1="213.20" x2="27.90" y2="213.20" stroke="#555" stroke-width="0.6" />
<text x="26.10" y="214.70" font-size="4.3" fill="#4D4D4D" stroke="#4D4D4D" stroke-width="0.07" text-anchor="end" >0.5</text>
<line x1="35.30" y1="227.50" x2="35.30" y2="228.80" stroke="#555" stroke-width="0.6" />
<text x="35.30" y="233.40" font-size="4.3" fill="#4D4D4D" stroke="#4D4D4D" stroke-width="0.07" text-anchor="middle" >0</text>
<line x1="52.38" y1="227.50" x2="52.38" y2="228.80" stroke="#555" stroke-width="0.6" />
<text x="52.38" y="233.40" font-size="4.3" fill="#4D4D4D" stroke="#4D4D4D" stroke-width="0.07" text-anchor="middle" >25</text>
<line x1="69.45" y1="227.50" x2="69.45" y2="228.80" stroke="#555" stroke-width="0.6" />
<text x="69.45" y="233.40" font-size="4.3" fill="#4D4D4D" stroke="#4D4D4D" stroke-width="0.07" text-anchor="middle" >50</text>
<line x1="86.53" y1="227.50" x2="86.53" y2="228.80" stroke="#555" stroke-width="0.6" />
<text x="86.53" y="233.40" font-size="4.3" fill="#4D4D4D" stroke="#4D4D4D" stroke-width="0.07" text-anchor="middle" >75</text>
<line x1="103.60" y1="227.50" x2="103.60" y2="228.80" stroke="#555" stroke-width="0.6" />
<text x="103.60" y="233.40" font-size="4.3" fill="#4D4D4D" stroke="#4D4D4D" stroke-width="0.07" text-anchor="middle" >100</text>
</g>
<g>
<rect x="119.90" y="129.00" width="79.00" height="98.50" fill="#EBEBEB" />
<clipPath id="cA11"><rect x="119.9" y="129.0" width="79.0" height="98.5"/></clipPath>
<g clip-path="url(#cA11)">
<line x1="119.90" y1="141.50" x2="198.90" y2="141.50" stroke="#fff" stroke-width="0.3" />
<line x1="119.90" y1="159.30" x2="198.90" y2="159.30" stroke="#fff" stroke-width="0.3" />
<line x1="119.90" y1="177.10" x2="198.90" y2="177.10" stroke="#fff" stroke-width="0.3" />
<line x1="119.90" y1="194.90" x2="198.90" y2="194.90" stroke="#fff" stroke-width="0.3" />
<line x1="119.90" y1="212.70" x2="198.90" y2="212.70" stroke="#fff" stroke-width="0.3" />
<line x1="119.90" y1="132.60" x2="198.90" y2="132.60" stroke="#fff" stroke-width="0.6" />
<line x1="119.90" y1="150.40" x2="198.90" y2="150.40" stroke="#fff" stroke-width="0.6" />
<line x1="119.90" y1="168.20" x2="198.90" y2="168.20" stroke="#fff" stroke-width="0.6" />
<line x1="119.90" y1="186.00" x2="198.90" y2="186.00" stroke="#fff" stroke-width="0.6" />
<line x1="119.90" y1="203.80" x2="198.90" y2="203.80" stroke="#fff" stroke-width="0.6" />
<line x1="119.90" y1="221.60" x2="198.90" y2="221.60" stroke="#fff" stroke-width="0.6" />
<line x1="135.84" y1="129.00" x2="135.84" y2="227.50" stroke="#fff" stroke-width="0.3" />
<line x1="152.91" y1="129.00" x2="152.91" y2="227.50" stroke="#fff" stroke-width="0.3" />
<line x1="169.99" y1="129.00" x2="169.99" y2="227.50" stroke="#fff" stroke-width="0.3" />
<line x1="187.06" y1="129.00" x2="187.06" y2="227.50" stroke="#fff" stroke-width="0.3" />
<line x1="127.30" y1="129.00" x2="127.30" y2="227.50" stroke="#fff" stroke-width="0.6" />
<line x1="144.38" y1="129.00" x2="144.38" y2="227.50" stroke="#fff" stroke-width="0.6" />
<line x1="161.45" y1="129.00" x2="161.45" y2="227.50" stroke="#fff" stroke-width="0.6" />
<line x1="178.53" y1="129.00" x2="178.53" y2="227.50" stroke="#fff" stroke-width="0.6" />
<line x1="195.60" y1="129.00" x2="195.60" y2="227.50" stroke="#fff" stroke-width="0.6" />
<circle cx="176.4" cy="133.7" r="1.1" fill="#00BFC4"/>
<circle cx="176.4" cy="146.1" r="1.1" fill="#F8766D"/>
<circle cx="174.0" cy="148.9" r="1.1" fill="#00BFC4"/>
<circle cx="174.0" cy="153.6" r="1.1" fill="#F8766D"/>
<circle cx="183.0" cy="150.2" r="1.1" fill="#00BFC4"/>
<circle cx="183.0" cy="155.7" r="1.1" fill="#F8766D"/>
<circle cx="192.4" cy="146.1" r="1.1" fill="#F8766D"/>
<circle cx="192.4" cy="152.6" r="1.1" fill="#00BFC4"/>
<circle cx="193.3" cy="153.6" r="1.1" fill="#00BFC4"/>
<circle cx="193.3" cy="157.1" r="1.1" fill="#F8766D"/>
<circle cx="195.3" cy="157.7" r="1.1" fill="#F8766D"/>
<circle cx="195.3" cy="159.2" r="1.1" fill="#00BFC4"/>
<circle cx="191.2" cy="159.8" r="1.1" fill="#00BFC4"/>
<circle cx="162.5" cy="151.0" r="1.1" fill="#F8766D"/>
<circle cx="169.9" cy="157.7" r="1.1" fill="#00BFC4"/>
<circle cx="169.9" cy="156.3" r="1.1" fill="#F8766D"/>
<circle cx="177.5" cy="160.4" r="1.1" fill="#00BFC4"/>
<circle cx="174.8" cy="161.8" r="1.1" fill="#F8766D"/>
<circle cx="176.8" cy="161.8" r="1.1" fill="#F8766D"/>
<circle cx="178.1" cy="161.2" r="1.1" fill="#F8766D"/>
<circle cx="147.1" cy="153.6" r="1.1" fill="#00BFC4"/>
<circle cx="156.3" cy="156.7" r="1.1" fill="#00BFC4"/>
<circle cx="156.3" cy="160.4" r="1.1" fill="#F8766D"/>
<circle cx="150.8" cy="163.9" r="1.1" fill="#F8766D"/>
<circle cx="148.7" cy="165.3" r="1.1" fill="#00BFC4"/>
<circle cx="163.1" cy="162.5" r="1.1" fill="#00BFC4"/>
<circle cx="145.3" cy="168.0" r="1.1" fill="#00BFC4"/>
<circle cx="148.7" cy="168.6" r="1.1" fill="#F8766D"/>
<circle cx="150.8" cy="168.6" r="1.1" fill="#00BFC4"/>
<circle cx="153.9" cy="169.0" r="1.1" fill="#F8766D"/>
<circle cx="146.7" cy="171.5" r="1.1" fill="#F8766D"/>
<circle cx="153.9" cy="172.1" r="1.1" fill="#00BFC4"/>
<circle cx="163.1" cy="167.0" r="1.1" fill="#F8766D"/>
<circle cx="164.5" cy="168.0" r="1.1" fill="#00BFC4"/>
<circle cx="162.5" cy="169.4" r="1.1" fill="#00BFC4"/>
<circle cx="164.5" cy="174.2" r="1.1" fill="#F8766D"/>
<circle cx="171.3" cy="170.1" r="1.1" fill="#F8766D"/>
<circle cx="174.8" cy="170.1" r="1.1" fill="#00BFC4"/>
<circle cx="174.8" cy="171.5" r="1.1" fill="#F8766D"/>
<circle cx="178.5" cy="170.1" r="1.1" fill="#00BFC4"/>
<circle cx="181.6" cy="168.0" r="1.1" fill="#00BFC4"/>
<circle cx="189.8" cy="164.9" r="1.1" fill="#00BFC4"/>
<circle cx="191.2" cy="164.9" r="1.1" fill="#F8766D"/>
<circle cx="127.2" cy="171.1" r="1.1" fill="#F8766D"/>
<circle cx="127.2" cy="177.2" r="1.1" fill="#00BFC4"/>
<circle cx="139.5" cy="177.6" r="1.1" fill="#F8766D"/>
<circle cx="150.8" cy="177.6" r="1.1" fill="#F8766D"/>
<circle cx="158.0" cy="176.8" r="1.1" fill="#F8766D"/>
<circle cx="171.3" cy="175.6" r="1.1" fill="#F8766D"/>
<circle cx="176.4" cy="176.8" r="1.1" fill="#00BFC4"/>
<circle cx="123.7" cy="184.1" r="1.1" fill="#F8766D"/>
<circle cx="123.7" cy="193.1" r="1.1" fill="#00BFC4"/>
<circle cx="145.7" cy="179.8" r="1.1" fill="#F8766D"/>
<circle cx="146.7" cy="179.2" r="1.1" fill="#00BFC4"/>
<circle cx="152.0" cy="178.1" r="1.1" fill="#00BFC4"/>
<circle cx="148.9" cy="182.0" r="1.1" fill="#00BFC4"/>
<circle cx="148.4" cy="185.6" r="1.1" fill="#F8766D"/>
<circle cx="152.0" cy="182.8" r="1.1" fill="#F8766D"/>
<circle cx="157.4" cy="184.1" r="1.1" fill="#00BFC4"/>
<circle cx="135.6" cy="192.6" r="1.1" fill="#F8766D"/>
<circle cx="135.6" cy="194.1" r="1.1" fill="#00BFC4"/>
<circle cx="139.9" cy="200.5" r="1.1" fill="#00BFC4"/>
<circle cx="151.0" cy="194.8" r="1.1" fill="#00BFC4"/>
<circle cx="149.9" cy="197.7" r="1.1" fill="#00BFC4"/>
<circle cx="147.8" cy="201.2" r="1.1" fill="#F8766D"/>
<circle cx="149.9" cy="201.2" r="1.1" fill="#F8766D"/>
<circle cx="151.4" cy="201.6" r="1.1" fill="#F8766D"/>
<circle cx="148.4" cy="202.7" r="1.1" fill="#F8766D"/>
<circle cx="147.8" cy="204.8" r="1.1" fill="#00BFC4"/>
<circle cx="151.0" cy="209.7" r="1.1" fill="#00BFC4"/>
<circle cx="149.9" cy="221.2" r="1.1" fill="#00BFC4"/>
<circle cx="149.9" cy="223.3" r="1.1" fill="#F8766D"/>
<circle cx="161.2" cy="199.0" r="1.1" fill="#00BFC4"/>
<circle cx="163.8" cy="185.6" r="1.1" fill="#00BFC4"/>
<circle cx="167.0" cy="183.5" r="1.1" fill="#F8766D"/>
<circle cx="167.6" cy="187.1" r="1.1" fill="#F8766D"/>
<circle cx="167.0" cy="189.2" r="1.1" fill="#F8766D"/>
<circle cx="166.3" cy="192.0" r="1.1" fill="#F8766D"/>
<circle cx="166.3" cy="193.5" r="1.1" fill="#00BFC4"/>
<circle cx="168.5" cy="179.8" r="1.1" fill="#00BFC4"/>
<circle cx="174.0" cy="183.5" r="1.1" fill="#00BFC4"/>
<circle cx="176.6" cy="179.2" r="1.1" fill="#F8766D"/>
<circle cx="180.8" cy="179.2" r="1.1" fill="#00BFC4"/>
<circle cx="180.8" cy="183.5" r="1.1" fill="#F8766D"/>
<circle cx="181.3" cy="186.2" r="1.1" fill="#00BFC4"/>
<circle cx="183.0" cy="185.6" r="1.1" fill="#F8766D"/>
<circle cx="187.7" cy="180.7" r="1.1" fill="#00BFC4"/>
<circle cx="187.7" cy="183.5" r="1.1" fill="#00BFC4"/>
<circle cx="187.7" cy="178.6" r="1.1" fill="#F8766D"/>
<circle cx="173.4" cy="192.0" r="1.1" fill="#F8766D"/>
<circle cx="172.7" cy="196.9" r="1.1" fill="#F8766D"/>
<circle cx="177.6" cy="190.5" r="1.1" fill="#00BFC4"/>
<circle cx="179.8" cy="191.4" r="1.1" fill="#F8766D"/>
<circle cx="180.8" cy="190.5" r="1.1" fill="#00BFC4"/>
<circle cx="182.5" cy="191.4" r="1.1" fill="#F8766D"/>
<circle cx="182.5" cy="193.5" r="1.1" fill="#F8766D"/>
<circle cx="176.1" cy="195.2" r="1.1" fill="#F8766D"/>
<circle cx="179.1" cy="196.9" r="1.1" fill="#F8766D"/>
<circle cx="178.3" cy="198.4" r="1.1" fill="#00BFC4"/>
<circle cx="184.7" cy="196.3" r="1.1" fill="#00BFC4"/>
<circle cx="184.0" cy="199.0" r="1.1" fill="#00BFC4"/>
<circle cx="172.7" cy="202.0" r="1.1" fill="#00BFC4"/>
<circle cx="184.7" cy="207.6" r="1.1" fill="#F8766D"/>
<circle cx="172.3" cy="212.7" r="1.1" fill="#00BFC4"/>
<circle cx="172.3" cy="214.0" r="1.1" fill="#F8766D"/>
<line x1="123.70" y1="187.70" x2="195.30" y2="172.30" stroke="#F8766D" stroke-width="0.9" />
<line x1="123.70" y1="193.50" x2="195.30" y2="173.00" stroke="#00BFC4" stroke-width="0.9" />
</g>
<rect x="119.90" y="120.80" width="79.00" height="8.20" fill="#D9D9D9" />
<text x="159.40" y="126.40" font-size="4.2" fill="#1A1A1A" stroke="#1A1A1A" stroke-width="0.07" text-anchor="middle" >LGALS9B;LGALS9-AS1</text>
<line x1="118.60" y1="132.60" x2="119.90" y2="132.60" stroke="#555" stroke-width="0.6" />
<text x="118.10" y="134.10" font-size="4.3" fill="#4D4D4D" stroke="#4D4D4D" stroke-width="0.07" text-anchor="end" >0.50</text>
<line x1="118.60" y1="150.40" x2="119.90" y2="150.40" stroke="#555" stroke-width="0.6" />
<text x="118.10" y="151.90" font-size="4.3" fill="#4D4D4D" stroke="#4D4D4D" stroke-width="0.07" text-anchor="end" >0.45</text>
<line x1="118.60" y1="168.20" x2="119.90" y2="168.20" stroke="#555" stroke-width="0.6" />
<text x="118.10" y="169.70" font-size="4.3" fill="#4D4D4D" stroke="#4D4D4D" stroke-width="0.07" text-anchor="end" >0.40</text>
<line x1="118.60" y1="186.00" x2="119.90" y2="186.00" stroke="#555" stroke-width="0.6" />
<text x="118.10" y="187.50" font-size="4.3" fill="#4D4D4D" stroke="#4D4D4D" stroke-width="0.07" text-anchor="end" >0.35</text>
<line x1="118.60" y1="203.80" x2="119.90" y2="203.80" stroke="#555" stroke-width="0.6" />
<text x="118.10" y="205.30" font-size="4.3" fill="#4D4D4D" stroke="#4D4D4D" stroke-width="0.07" text-anchor="end" >0.30</text>
<line x1="118.60" y1="221.60" x2="119.90" y2="221.60" stroke="#555" stroke-width="0.6" />
<text x="118.10" y="223.10" font-size="4.3" fill="#4D4D4D" stroke="#4D4D4D" stroke-width="0.07" text-anchor="end" >0.25</text>
<line x1="127.30" y1="227.50" x2="127.30" y2="228.80" stroke="#555" stroke-width="0.6" />
<text x="127.30" y="233.40" font-size="4.3" fill="#4D4D4D" stroke="#4D4D4D" stroke-width="0.07" text-anchor="middle" >0</text>
<line x1="144.38" y1="227.50" x2="144.38" y2="228.80" stroke="#555" stroke-width="0.6" />
<text x="144.38" y="233.40" font-size="4.3" fill="#4D4D4D" stroke="#4D4D4D" stroke-width="0.07" text-anchor="middle" >25</text>
<line x1="161.45" y1="227.50" x2="161.45" y2="228.80" stroke="#555" stroke-width="0.6" />
<text x="161.45" y="233.40" font-size="4.3" fill="#4D4D4D" stroke="#4D4D4D" stroke-width="0.07" text-anchor="middle" >50</text>
<line x1="178.53" y1="227.50" x2="178.53" y2="228.80" stroke="#555" stroke-width="0.6" />
<text x="178.53" y="233.40" font-size="4.3" fill="#4D4D4D" stroke="#4D4D4D" stroke-width="0.07" text-anchor="middle" >75</text>
<line x1="195.60" y1="227.50" x2="195.60" y2="228.80" stroke="#555" stroke-width="0.6" />
<text x="195.60" y="233.40" font-size="4.3" fill="#4D4D4D" stroke="#4D4D4D" stroke-width="0.07" text-anchor="middle" >100</text>
</g>
<text x="158.40" y="239.60" font-size="5.15" fill="#000" stroke="#000" stroke-width="0.07" text-anchor="middle" >Percent response</text>
<text x="0.00" y="0.00" font-size="5.25" fill="#000" stroke="#000" stroke-width="0.07" text-anchor="middle" transform="translate(15.6,121.3) rotate(-90)">Beta</text>
<text x="1.00" y="11.90" font-size="16.5" fill="#000" text-anchor="start" >A</text>
<text x="296.20" y="113.40" font-size="5.25" fill="#000" stroke="#000" stroke-width="0.07" text-anchor="start" >Time</text>
<rect x="296.20" y="116.80" width="7.60" height="7.60" fill="#EBEBEB" />
<line x1="297.00" y1="120.60" x2="303.00" y2="120.60" stroke="#F8766D" stroke-width="0.9" />
<circle cx="300.0" cy="120.60" r="1.05" fill="#F8766D"/>
<text x="306.80" y="122.10" font-size="4.3" fill="#000" stroke="#000" stroke-width="0.07" text-anchor="start" >Baseline</text>
<rect x="296.20" y="124.40" width="7.60" height="7.60" fill="#EBEBEB" />
<line x1="297.00" y1="128.20" x2="303.00" y2="128.20" stroke="#00BFC4" stroke-width="0.9" />
<circle cx="300.0" cy="128.20" r="1.05" fill="#00BFC4"/>
<text x="306.80" y="129.70" font-size="4.3" fill="#000" stroke="#000" stroke-width="0.07" text-anchor="start" >Treated</text>
<rect x="394.30" y="11.10" width="71.70" height="59.50" fill="#EBEBEB" />
<line x1="394.30" y1="15.05" x2="466.00" y2="15.05" stroke="#fff" stroke-width="0.3" />
<line x1="394.30" y1="29.55" x2="466.00" y2="29.55" stroke="#fff" stroke-width="0.3" />
<line x1="394.30" y1="44.05" x2="466.00" y2="44.05" stroke="#fff" stroke-width="0.3" />
<line x1="394.30" y1="58.55" x2="466.00" y2="58.55" stroke="#fff" stroke-width="0.3" />
<line x1="394.30" y1="22.30" x2="466.00" y2="22.30" stroke="#fff" stroke-width="0.6" />
<line x1="394.30" y1="36.80" x2="466.00" y2="36.80" stroke="#fff" stroke-width="0.6" />
<line x1="394.30" y1="51.30" x2="466.00" y2="51.30" stroke="#fff" stroke-width="0.6" />
<line x1="394.30" y1="65.80" x2="466.00" y2="65.80" stroke="#fff" stroke-width="0.6" />
<line x1="413.85" y1="11.10" x2="413.85" y2="70.60" stroke="#fff" stroke-width="0.6" />
<line x1="446.45" y1="11.10" x2="446.45" y2="70.60" stroke="#fff" stroke-width="0.6" />
<polygon points="413.85,29.5 446.45,50.8 446.45,67.9 413.85,47.5" fill="#5F7F7F" fill-opacity="0.5"/>
<polygon points="413.85,18.7 446.45,14.8 446.45,29.5 413.85,32.1" fill="#12A58A" fill-opacity="0.5"/>
<line x1="413.85" y1="36.10" x2="446.45" y2="60.70" stroke="#52706F" stroke-width="0.6" />
<circle cx="413.85" cy="36.1" r="0.9" fill="#52706F"/>
<circle cx="446.45" cy="60.7" r="0.9" fill="#52706F"/>
<line x1="413.85" y1="25.60" x2="446.45" y2="22.00" stroke="#1B8C7A" stroke-width="0.6" />
<circle cx="413.85" cy="25.6" r="0.9" fill="#1B8C7A"/>
<circle cx="446.45" cy="22.0" r="0.9" fill="#1B8C7A"/>
<rect x="394.30" y="3.60" width="71.70" height="7.50" fill="#D9D9D9" />
<text x="430.15" y="9.30" font-size="4.1" fill="#1A1A1A" stroke="#1A1A1A" stroke-width="0.07" text-anchor="middle" >NRP2</text>
<line x1="393.00" y1="22.30" x2="394.30" y2="22.30" stroke="#555" stroke-width="0.6" />
<text x="392.20" y="23.75" font-size="4.0" fill="#4D4D4D" stroke="#4D4D4D" stroke-width="0.07" text-anchor="end" >0.78</text>
<line x1="393.00" y1="36.80" x2="394.30" y2="36.80" stroke="#555" stroke-width="0.6" />
<text x="392.20" y="38.25" font-size="4.0" fill="#4D4D4D" stroke="#4D4D4D" stroke-width="0.07" text-anchor="end" >0.76</text>
<line x1="393.00" y1="51.30" x2="394.30" y2="51.30" stroke="#555" stroke-width="0.6" />
<text x="392.20" y="52.75" font-size="4.0" fill="#4D4D4D" stroke="#4D4D4D" stroke-width="0.07" text-anchor="end" >0.74</text>
<line x1="393.00" y1="65.80" x2="394.30" y2="65.80" stroke="#555" stroke-width="0.6" />
<text x="392.20" y="67.25" font-size="4.0" fill="#4D4D4D" stroke="#4D4D4D" stroke-width="0.07" text-anchor="end" >0.72</text>
<line x1="413.85" y1="70.60" x2="413.85" y2="71.90" stroke="#555" stroke-width="0.6" />
<text x="413.85" y="76.70" font-size="4.0" fill="#4D4D4D" stroke="#4D4D4D" stroke-width="0.07" text-anchor="middle" >Baseline</text>
<line x1="446.45" y1="70.60" x2="446.45" y2="71.90" stroke="#555" stroke-width="0.6" />
<text x="446.45" y="76.70" font-size="4.0" fill="#4D4D4D" stroke="#4D4D4D" stroke-width="0.07" text-anchor="middle" >Treated</text>
<rect x="481.20" y="11.10" width="71.70" height="59.50" fill="#EBEBEB" />
<line x1="481.20" y1="20.27" x2="552.90" y2="20.27" stroke="#fff" stroke-width="0.3" />
<line x1="481.20" y1="36.40" x2="552.90" y2="36.40" stroke="#fff" stroke-width="0.3" />
<line x1="481.20" y1="52.53" x2="552.90" y2="52.53" stroke="#fff" stroke-width="0.3" />
<line x1="481.20" y1="68.67" x2="552.90" y2="68.67" stroke="#fff" stroke-width="0.3" />
<line x1="481.20" y1="12.20" x2="552.90" y2="12.20" stroke="#fff" stroke-width="0.6" />
<line x1="481.20" y1="28.33" x2="552.90" y2="28.33" stroke="#fff" stroke-width="0.6" />
<line x1="481.20" y1="44.47" x2="552.90" y2="44.47" stroke="#fff" stroke-width="0.6" />
<line x1="481.20" y1="60.60" x2="552.90" y2="60.60" stroke="#fff" stroke-width="0.6" />
<line x1="500.75" y1="11.10" x2="500.75" y2="70.60" stroke="#fff" stroke-width="0.6" />
<line x1="533.35" y1="11.10" x2="533.35" y2="70.60" stroke="#fff" stroke-width="0.6" />
<polygon points="500.75,57.7 533.35,51.8 533.35,61.6 500.75,67.2" fill="#5F7F7F" fill-opacity="0.5"/>
<polygon points="500.75,41.0 533.35,14.8 533.35,38.7 500.75,63.5" fill="#12A58A" fill-opacity="0.5"/>
<line x1="500.75" y1="62.30" x2="533.35" y2="57.40" stroke="#52706F" stroke-width="0.6" />
<circle cx="500.75" cy="62.3" r="0.9" fill="#52706F"/>
<circle cx="533.35" cy="57.4" r="0.9" fill="#52706F"/>
<line x1="500.75" y1="52.50" x2="533.35" y2="26.20" stroke="#1B8C7A" stroke-width="0.6" />
<circle cx="500.75" cy="52.5" r="0.9" fill="#1B8C7A"/>
<circle cx="533.35" cy="26.2" r="0.9" fill="#1B8C7A"/>
<rect x="481.20" y="3.60" width="71.70" height="7.50" fill="#D9D9D9" />
<text x="517.05" y="9.30" font-size="4.1" fill="#1A1A1A" stroke="#1A1A1A" stroke-width="0.07" text-anchor="middle" >MFSD6L</text>
<line x1="479.90" y1="12.20" x2="481.20" y2="12.20" stroke="#555" stroke-width="0.6" />
<text x="479.10" y="13.65" font-size="4.0" fill="#4D4D4D" stroke="#4D4D4D" stroke-width="0.07" text-anchor="end" >0.625</text>
<line x1="479.90" y1="28.40" x2="481.20" y2="28.40" stroke="#555" stroke-width="0.6" />
<text x="479.10" y="29.85" font-size="4.0" fill="#4D4D4D" stroke="#4D4D4D" stroke-width="0.07" text-anchor="end" >0.600</text>
<line x1="479.90" y1="44.50" x2="481.20" y2="44.50" stroke="#555" stroke-width="0.6" />
<text x="479.10" y="45.95" font-size="4.0" fill="#4D4D4D" stroke="#4D4D4D" stroke-width="0.07" text-anchor="end" >0.575</text>
<line x1="479.90" y1="60.60" x2="481.20" y2="60.60" stroke="#555" stroke-width="0.6" />
<text x="479.10" y="62.05" font-size="4.0" fill="#4D4D4D" stroke="#4D4D4D" stroke-width="0.07" text-anchor="end" >0.550</text>
<line x1="500.75" y1="70.60" x2="500.75" y2="71.90" stroke="#555" stroke-width="0.6" />
<text x="500.75" y="76.70" font-size="4.0" fill="#4D4D4D" stroke="#4D4D4D" stroke-width="0.07" text-anchor="middle" >Baseline</text>
<line x1="533.35" y1="70.60" x2="533.35" y2="71.90" stroke="#555" stroke-width="0.6" />
<text x="533.35" y="76.70" font-size="4.0" fill="#4D4D4D" stroke="#4D4D4D" stroke-width="0.07" text-anchor="middle" >Treated</text>
<rect x="568.30" y="11.10" width="71.70" height="59.50" fill="#EBEBEB" />
<line x1="568.30" y1="21.52" x2="640.00" y2="21.52" stroke="#fff" stroke-width="0.3" />
<line x1="568.30" y1="33.17" x2="640.00" y2="33.17" stroke="#fff" stroke-width="0.3" />
<line x1="568.30" y1="44.82" x2="640.00" y2="44.82" stroke="#fff" stroke-width="0.3" />
<line x1="568.30" y1="56.47" x2="640.00" y2="56.47" stroke="#fff" stroke-width="0.3" />
<line x1="568.30" y1="68.12" x2="640.00" y2="68.12" stroke="#fff" stroke-width="0.3" />
<line x1="568.30" y1="15.70" x2="640.00" y2="15.70" stroke="#fff" stroke-width="0.6" />
<line x1="568.30" y1="27.35" x2="640.00" y2="27.35" stroke="#fff" stroke-width="0.6" />
<line x1="568.30" y1="39.00" x2="640.00" y2="39.00" stroke="#fff" stroke-width="0.6" />
<line x1="568.30" y1="50.65" x2="640.00" y2="50.65" stroke="#fff" stroke-width="0.6" />
<line x1="568.30" y1="62.30" x2="640.00" y2="62.30" stroke="#fff" stroke-width="0.6" />
<line x1="587.85" y1="11.10" x2="587.85" y2="70.60" stroke="#fff" stroke-width="0.6" />
<line x1="620.45" y1="11.10" x2="620.45" y2="70.60" stroke="#fff" stroke-width="0.6" />
<polygon points="587.85,54.1 620.45,45.9 620.45,59.0 587.85,67.9" fill="#5F7F7F" fill-opacity="0.5"/>
<polygon points="587.85,16.4 620.45,14.1 620.45,27.9 587.85,33.8" fill="#12A58A" fill-opacity="0.5"/>
<line x1="587.85" y1="61.30" x2="620.45" y2="51.80" stroke="#52706F" stroke-width="0.6" />
<circle cx="587.85" cy="61.3" r="0.9" fill="#52706F"/>
<circle cx="620.45" cy="51.8" r="0.9" fill="#52706F"/>
<line x1="587.85" y1="25.60" x2="620.45" y2="23.00" stroke="#1B8C7A" stroke-width="0.6" />
<circle cx="587.85" cy="25.6" r="0.9" fill="#1B8C7A"/>
<circle cx="620.45" cy="23.0" r="0.9" fill="#1B8C7A"/>
<rect x="568.30" y="3.60" width="71.70" height="7.50" fill="#D9D9D9" />
<text x="604.15" y="9.30" font-size="4.1" fill="#1A1A1A" stroke="#1A1A1A" stroke-width="0.07" text-anchor="middle" >MPIG6B</text>
<line x1="567.00" y1="15.70" x2="568.30" y2="15.70" stroke="#555" stroke-width="0.6" />
<text x="566.20" y="17.15" font-size="4.0" fill="#4D4D4D" stroke="#4D4D4D" stroke-width="0.07" text-anchor="end" >0.59</text>
<line x1="567.00" y1="27.40" x2="568.30" y2="27.40" stroke="#555" stroke-width="0.6" />
<text x="566.20" y="28.85" font-size="4.0" fill="#4D4D4D" stroke="#4D4D4D" stroke-width="0.07" text-anchor="end" >0.58</text>
<line x1="567.00" y1="39.10" x2="568.30" y2="39.10" stroke="#555" stroke-width="0.6" />
<text x="566.20" y="40.55" font-size="4.0" fill="#4D4D4D" stroke="#4D4D4D" stroke-width="0.07" text-anchor="end" >0.57</text>
<line x1="567.00" y1="50.90" x2="568.30" y2="50.90" stroke="#555" stroke-width="0.6" />
<text x="566.20" y="52.35" font-size="4.0" fill="#4D4D4D" stroke="#4D4D4D" stroke-width="0.07" text-anchor="end" >0.56</text>
<line x1="567.00" y1="62.30" x2="568.30" y2="62.30" stroke="#555" stroke-width="0.6" />
<text x="566.20" y="63.75" font-size="4.0" fill="#4D4D4D" stroke="#4D4D4D" stroke-width="0.07" text-anchor="end" >0.55</text>
<line x1="587.85" y1="70.60" x2="587.85" y2="71.90" stroke="#555" stroke-width="0.6" />
<text x="587.85" y="76.70" font-size="4.0" fill="#4D4D4D" stroke="#4D4D4D" stroke-width="0.07" text-anchor="middle" >Baseline</text>
<line x1="620.45" y1="70.60" x2="620.45" y2="71.90" stroke="#555" stroke-width="0.6" />
<text x="620.45" y="76.70" font-size="4.0" fill="#4D4D4D" stroke="#4D4D4D" stroke-width="0.07" text-anchor="middle" >Treated</text>
<rect x="394.30" y="87.10" width="71.70" height="59.50" fill="#EBEBEB" />
<line x1="394.30" y1="94.99" x2="466.00" y2="94.99" stroke="#fff" stroke-width="0.3" />
<line x1="394.30" y1="106.37" x2="466.00" y2="106.37" stroke="#fff" stroke-width="0.3" />
<line x1="394.30" y1="117.75" x2="466.00" y2="117.75" stroke="#fff" stroke-width="0.3" />
<line x1="394.30" y1="129.13" x2="466.00" y2="129.13" stroke="#fff" stroke-width="0.3" />
<line x1="394.30" y1="140.51" x2="466.00" y2="140.51" stroke="#fff" stroke-width="0.3" />
<line x1="394.30" y1="89.30" x2="466.00" y2="89.30" stroke="#fff" stroke-width="0.6" />
<line x1="394.30" y1="100.68" x2="466.00" y2="100.68" stroke="#fff" stroke-width="0.6" />
<line x1="394.30" y1="112.06" x2="466.00" y2="112.06" stroke="#fff" stroke-width="0.6" />
<line x1="394.30" y1="123.44" x2="466.00" y2="123.44" stroke="#fff" stroke-width="0.6" />
<line x1="394.30" y1="134.82" x2="466.00" y2="134.82" stroke="#fff" stroke-width="0.6" />
<line x1="394.30" y1="146.20" x2="466.00" y2="146.20" stroke="#fff" stroke-width="0.6" />
<line x1="413.85" y1="87.10" x2="413.85" y2="146.60" stroke="#fff" stroke-width="0.6" />
<line x1="446.45" y1="87.10" x2="446.45" y2="146.60" stroke="#fff" stroke-width="0.6" />
<polygon points="413.85,97.8 446.45,90.5 446.45,110.8 413.85,116.3" fill="#5F7F7F" fill-opacity="0.5"/>
<polygon points="413.85,115.5 446.45,118.5 446.45,143.6 413.85,140.7" fill="#12A58A" fill-opacity="0.5"/>
<line x1="413.85" y1="107.50" x2="446.45" y2="100.10" stroke="#52706F" stroke-width="0.6" />
<circle cx="413.85" cy="107.5" r="0.9" fill="#52706F"/>
<circle cx="446.45" cy="100.1" r="0.9" fill="#52706F"/>
<line x1="413.85" y1="127.80" x2="446.45" y2="131.10" stroke="#1B8C7A" stroke-width="0.6" />
<circle cx="413.85" cy="127.8" r="0.9" fill="#1B8C7A"/>
<circle cx="446.45" cy="131.1" r="0.9" fill="#1B8C7A"/>
<rect x="394.30" y="79.60" width="71.70" height="7.50" fill="#D9D9D9" />
<text x="430.15" y="85.30" font-size="4.1" fill="#1A1A1A" stroke="#1A1A1A" stroke-width="0.07" text-anchor="middle" >CYP1A1</text>
<line x1="393.00" y1="89.30" x2="394.30" y2="89.30" stroke="#555" stroke-width="0.6" />
<text x="392.20" y="90.75" font-size="4.0" fill="#4D4D4D" stroke="#4D4D4D" stroke-width="0.07" text-anchor="end" >0.47</text>
<line x1="393.00" y1="100.60" x2="394.30" y2="100.60" stroke="#555" stroke-width="0.6" />
<text x="392.20" y="102.05" font-size="4.0" fill="#4D4D4D" stroke="#4D4D4D" stroke-width="0.07" text-anchor="end" >0.46</text>
<line x1="393.00" y1="112.00" x2="394.30" y2="112.00" stroke="#555" stroke-width="0.6" />
<text x="392.20" y="113.45" font-size="4.0" fill="#4D4D4D" stroke="#4D4D4D" stroke-width="0.07" text-anchor="end" >0.45</text>
<line x1="393.00" y1="123.40" x2="394.30" y2="123.40" stroke="#555" stroke-width="0.6" />
<text x="392.20" y="124.85" font-size="4.0" fill="#4D4D4D" stroke="#4D4D4D" stroke-width="0.07" text-anchor="end" >0.44</text>
<line x1="393.00" y1="134.80" x2="394.30" y2="134.80" stroke="#555" stroke-width="0.6" />
<text x="392.20" y="136.25" font-size="4.0" fill="#4D4D4D" stroke="#4D4D4D" stroke-width="0.07" text-anchor="end" >0.43</text>
<line x1="393.00" y1="146.20" x2="394.30" y2="146.20" stroke="#555" stroke-width="0.6" />
<text x="392.20" y="147.65" font-size="4.0" fill="#4D4D4D" stroke="#4D4D4D" stroke-width="0.07" text-anchor="end" >0.42</text>
<line x1="413.85" y1="146.60" x2="413.85" y2="147.90" stroke="#555" stroke-width="0.6" />
<text x="413.85" y="152.70" font-size="4.0" fill="#4D4D4D" stroke="#4D4D4D" stroke-width="0.07" text-anchor="middle" >Baseline</text>
<line x1="446.45" y1="146.60" x2="446.45" y2="147.90" stroke="#555" stroke-width="0.6" />
<text x="446.45" y="152.70" font-size="4.0" fill="#4D4D4D" stroke="#4D4D4D" stroke-width="0.07" text-anchor="middle" >Treated</text>
<rect x="481.20" y="87.10" width="71.70" height="59.50" fill="#EBEBEB" />
<line x1="481.20" y1="88.10" x2="552.90" y2="88.10" stroke="#fff" stroke-width="0.3" />
<line x1="481.20" y1="105.30" x2="552.90" y2="105.30" stroke="#fff" stroke-width="0.3" />
<line x1="481.20" y1="122.50" x2="552.90" y2="122.50" stroke="#fff" stroke-width="0.3" />
<line x1="481.20" y1="139.70" x2="552.90" y2="139.70" stroke="#fff" stroke-width="0.3" />
<line x1="481.20" y1="96.70" x2="552.90" y2="96.70" stroke="#fff" stroke-width="0.6" />
<line x1="481.20" y1="113.90" x2="552.90" y2="113.90" stroke="#fff" stroke-width="0.6" />
<line x1="481.20" y1="131.10" x2="552.90" y2="131.10" stroke="#fff" stroke-width="0.6" />
<line x1="500.75" y1="87.10" x2="500.75" y2="146.60" stroke="#fff" stroke-width="0.6" />
<line x1="533.35" y1="87.10" x2="533.35" y2="146.60" stroke="#fff" stroke-width="0.6" />
<polygon points="500.75,95.0 533.35,90.1 533.35,102.0 500.75,107.5" fill="#5F7F7F" fill-opacity="0.5"/>
<polygon points="500.75,127.2 533.35,109.1 533.35,127.2 500.75,143.6" fill="#12A58A" fill-opacity="0.5"/>
<line x1="500.75" y1="101.60" x2="533.35" y2="95.70" stroke="#52706F" stroke-width="0.6" />
<circle cx="500.75" cy="101.6" r="0.9" fill="#52706F"/>
<circle cx="533.35" cy="95.7" r="0.9" fill="#52706F"/>
<line x1="500.75" y1="136.00" x2="533.35" y2="117.70" stroke="#1B8C7A" stroke-width="0.6" />
<circle cx="500.75" cy="136.0" r="0.9" fill="#1B8C7A"/>
<circle cx="533.35" cy="117.7" r="0.9" fill="#1B8C7A"/>
<rect x="481.20" y="79.60" width="71.70" height="7.50" fill="#D9D9D9" />
<text x="517.05" y="85.30" font-size="4.1" fill="#1A1A1A" stroke="#1A1A1A" stroke-width="0.07" text-anchor="middle" >STOX2</text>
<line x1="479.90" y1="96.70" x2="481.20" y2="96.70" stroke="#555" stroke-width="0.6" />
<text x="479.10" y="98.15" font-size="4.0" fill="#4D4D4D" stroke="#4D4D4D" stroke-width="0.07" text-anchor="end" >0.80</text>
<line x1="479.90" y1="113.90" x2="481.20" y2="113.90" stroke="#555" stroke-width="0.6" />
<text x="479.10" y="115.35" font-size="4.0" fill="#4D4D4D" stroke="#4D4D4D" stroke-width="0.07" text-anchor="end" >0.75</text>
<line x1="479.90" y1="131.10" x2="481.20" y2="131.10" stroke="#555" stroke-width="0.6" />
<text x="479.10" y="132.55" font-size="4.0" fill="#4D4D4D" stroke="#4D4D4D" stroke-width="0.07" text-anchor="end" >0.70</text>
<line x1="500.75" y1="146.60" x2="500.75" y2="147.90" stroke="#555" stroke-width="0.6" />
<text x="500.75" y="152.70" font-size="4.0" fill="#4D4D4D" stroke="#4D4D4D" stroke-width="0.07" text-anchor="middle" >Baseline</text>
<line x1="533.35" y1="146.60" x2="533.35" y2="147.90" stroke="#555" stroke-width="0.6" />
<text x="533.35" y="152.70" font-size="4.0" fill="#4D4D4D" stroke="#4D4D4D" stroke-width="0.07" text-anchor="middle" >Treated</text>
<rect x="568.30" y="87.10" width="71.70" height="59.50" fill="#EBEBEB" />
<line x1="568.30" y1="95.53" x2="640.00" y2="95.53" stroke="#fff" stroke-width="0.3" />
<line x1="568.30" y1="109.18" x2="640.00" y2="109.18" stroke="#fff" stroke-width="0.3" />
<line x1="568.30" y1="122.83" x2="640.00" y2="122.83" stroke="#fff" stroke-width="0.3" />
<line x1="568.30" y1="136.48" x2="640.00" y2="136.48" stroke="#fff" stroke-width="0.3" />
<line x1="568.30" y1="88.70" x2="640.00" y2="88.70" stroke="#fff" stroke-width="0.6" />
<line x1="568.30" y1="102.35" x2="640.00" y2="102.35" stroke="#fff" stroke-width="0.6" />
<line x1="568.30" y1="116.00" x2="640.00" y2="116.00" stroke="#fff" stroke-width="0.6" />
<line x1="568.30" y1="129.65" x2="640.00" y2="129.65" stroke="#fff" stroke-width="0.6" />
<line x1="568.30" y1="143.30" x2="640.00" y2="143.30" stroke="#fff" stroke-width="0.6" />
<line x1="587.85" y1="87.10" x2="587.85" y2="146.60" stroke="#fff" stroke-width="0.6" />
<line x1="620.45" y1="87.10" x2="620.45" y2="146.60" stroke="#fff" stroke-width="0.6" />
<polygon points="587.85,95.0 620.45,90.5 620.45,131.0 587.85,140.5" fill="#5F7F7F" fill-opacity="0.5"/>
<polygon points="587.85,118.0 620.45,118.0 620.45,138.0 587.85,143.6" fill="#12A58A" fill-opacity="0.5"/>
<line x1="587.85" y1="118.00" x2="620.45" y2="112.40" stroke="#52706F" stroke-width="0.6" />
<circle cx="587.85" cy="118.0" r="0.9" fill="#52706F"/>
<circle cx="620.45" cy="112.4" r="0.9" fill="#52706F"/>
<line x1="587.85" y1="129.80" x2="620.45" y2="127.20" stroke="#1B8C7A" stroke-width="0.6" />
<circle cx="587.85" cy="129.8" r="0.9" fill="#1B8C7A"/>
<circle cx="620.45" cy="127.2" r="0.9" fill="#1B8C7A"/>
<rect x="568.30" y="79.60" width="71.70" height="7.50" fill="#D9D9D9" />
<text x="604.15" y="85.30" font-size="4.1" fill="#1A1A1A" stroke="#1A1A1A" stroke-width="0.07" text-anchor="middle" >MCCC1</text>
<line x1="567.00" y1="88.70" x2="568.30" y2="88.70" stroke="#555" stroke-width="0.6" />
<text x="566.20" y="90.15" font-size="4.0" fill="#4D4D4D" stroke="#4D4D4D" stroke-width="0.07" text-anchor="end" >0.051</text>
<line x1="567.00" y1="102.30" x2="568.30" y2="102.30" stroke="#555" stroke-width="0.6" />
<text x="566.20" y="103.75" font-size="4.0" fill="#4D4D4D" stroke="#4D4D4D" stroke-width="0.07" text-anchor="end" >0.049</text>
<line x1="567.00" y1="116.00" x2="568.30" y2="116.00" stroke="#555" stroke-width="0.6" />
<text x="566.20" y="117.45" font-size="4.0" fill="#4D4D4D" stroke="#4D4D4D" stroke-width="0.07" text-anchor="end" >0.047</text>
<line x1="567.00" y1="129.60" x2="568.30" y2="129.60" stroke="#555" stroke-width="0.6" />
<text x="566.20" y="131.05" font-size="4.0" fill="#4D4D4D" stroke="#4D4D4D" stroke-width="0.07" text-anchor="end" >0.045</text>
<line x1="567.00" y1="143.30" x2="568.30" y2="143.30" stroke="#555" stroke-width="0.6" />
<text x="566.20" y="144.75" font-size="4.0" fill="#4D4D4D" stroke="#4D4D4D" stroke-width="0.07" text-anchor="end" >0.043</text>
<line x1="587.85" y1="146.60" x2="587.85" y2="147.90" stroke="#555" stroke-width="0.6" />
<text x="587.85" y="152.70" font-size="4.0" fill="#4D4D4D" stroke="#4D4D4D" stroke-width="0.07" text-anchor="middle" >Baseline</text>
<line x1="620.45" y1="146.60" x2="620.45" y2="147.90" stroke="#555" stroke-width="0.6" />
<text x="620.45" y="152.70" font-size="4.0" fill="#4D4D4D" stroke="#4D4D4D" stroke-width="0.07" text-anchor="middle" >Treated</text>
<rect x="394.30" y="163.10" width="71.70" height="59.50" fill="#EBEBEB" />
<line x1="394.30" y1="170.93" x2="466.00" y2="170.93" stroke="#fff" stroke-width="0.3" />
<line x1="394.30" y1="183.18" x2="466.00" y2="183.18" stroke="#fff" stroke-width="0.3" />
<line x1="394.30" y1="195.43" x2="466.00" y2="195.43" stroke="#fff" stroke-width="0.3" />
<line x1="394.30" y1="207.68" x2="466.00" y2="207.68" stroke="#fff" stroke-width="0.3" />
<line x1="394.30" y1="219.93" x2="466.00" y2="219.93" stroke="#fff" stroke-width="0.3" />
<line x1="394.30" y1="164.80" x2="466.00" y2="164.80" stroke="#fff" stroke-width="0.6" />
<line x1="394.30" y1="177.05" x2="466.00" y2="177.05" stroke="#fff" stroke-width="0.6" />
<line x1="394.30" y1="189.30" x2="466.00" y2="189.30" stroke="#fff" stroke-width="0.6" />
<line x1="394.30" y1="201.55" x2="466.00" y2="201.55" stroke="#fff" stroke-width="0.6" />
<line x1="394.30" y1="213.80" x2="466.00" y2="213.80" stroke="#fff" stroke-width="0.6" />
<line x1="413.85" y1="163.10" x2="413.85" y2="222.60" stroke="#fff" stroke-width="0.6" />
<line x1="446.45" y1="163.10" x2="446.45" y2="222.60" stroke="#fff" stroke-width="0.6" />
<polygon points="413.85,172.3 446.45,166.4 446.45,183.8 413.85,190.0" fill="#5F7F7F" fill-opacity="0.5"/>
<polygon points="413.85,202.5 446.45,196.6 446.45,212.3 413.85,219.8" fill="#12A58A" fill-opacity="0.5"/>
<line x1="413.85" y1="181.10" x2="446.45" y2="173.60" stroke="#52706F" stroke-width="0.6" />
<circle cx="413.85" cy="181.1" r="0.9" fill="#52706F"/>
<circle cx="446.45" cy="173.6" r="0.9" fill="#52706F"/>
<line x1="413.85" y1="211.00" x2="446.45" y2="204.10" stroke="#1B8C7A" stroke-width="0.6" />
<circle cx="413.85" cy="211.0" r="0.9" fill="#1B8C7A"/>
<circle cx="446.45" cy="204.1" r="0.9" fill="#1B8C7A"/>
<rect x="394.30" y="155.60" width="71.70" height="7.50" fill="#D9D9D9" />
<text x="430.15" y="161.30" font-size="4.1" fill="#1A1A1A" stroke="#1A1A1A" stroke-width="0.07" text-anchor="middle" >BMP7</text>
<line x1="393.00" y1="164.80" x2="394.30" y2="164.80" stroke="#555" stroke-width="0.6" />
<text x="392.20" y="166.25" font-size="4.0" fill="#4D4D4D" stroke="#4D4D4D" stroke-width="0.07" text-anchor="end" >0.086</text>
<line x1="393.00" y1="177.00" x2="394.30" y2="177.00" stroke="#555" stroke-width="0.6" />
<text x="392.20" y="178.45" font-size="4.0" fill="#4D4D4D" stroke="#4D4D4D" stroke-width="0.07" text-anchor="end" >0.084</text>
<line x1="393.00" y1="189.30" x2="394.30" y2="189.30" stroke="#555" stroke-width="0.6" />
<text x="392.20" y="190.75" font-size="4.0" fill="#4D4D4D" stroke="#4D4D4D" stroke-width="0.07" text-anchor="end" >0.082</text>
<line x1="393.00" y1="201.50" x2="394.30" y2="201.50" stroke="#555" stroke-width="0.6" />
<text x="392.20" y="202.95" font-size="4.0" fill="#4D4D4D" stroke="#4D4D4D" stroke-width="0.07" text-anchor="end" >0.080</text>
<line x1="393.00" y1="213.80" x2="394.30" y2="213.80" stroke="#555" stroke-width="0.6" />
<text x="392.20" y="215.25" font-size="4.0" fill="#4D4D4D" stroke="#4D4D4D" stroke-width="0.07" text-anchor="end" >0.078</text>
<line x1="413.85" y1="222.60" x2="413.85" y2="223.90" stroke="#555" stroke-width="0.6" />
<text x="413.85" y="228.70" font-size="4.0" fill="#4D4D4D" stroke="#4D4D4D" stroke-width="0.07" text-anchor="middle" >Baseline</text>
<line x1="446.45" y1="222.60" x2="446.45" y2="223.90" stroke="#555" stroke-width="0.6" />
<text x="446.45" y="228.70" font-size="4.0" fill="#4D4D4D" stroke="#4D4D4D" stroke-width="0.07" text-anchor="middle" >Treated</text>
<text x="0.00" y="0.00" font-size="5.1" fill="#000" stroke="#000" stroke-width="0.07" text-anchor="middle" transform="translate(379.4,117.4) rotate(-90)">Beta</text>
<text x="363.50" y="11.90" font-size="16.5" fill="#000" text-anchor="start" >B</text>
<text x="646.80" y="110.00" font-size="5.0" fill="#000" stroke="#000" stroke-width="0.07" text-anchor="start" >Remission</text>
<rect x="646.80" y="113.20" width="6.20" height="7.60" fill="#EBEBEB" />
<rect x="646.80" y="113.20" width="6.20" height="7.60" fill="#5F7F7F" fill-opacity="0.5"/>
<line x1="647.00" y1="117.00" x2="652.80" y2="117.00" stroke="#52706F" stroke-width="0.35" stroke-opacity="0.6"/>
<circle cx="649.9" cy="117.00" r="0.8" fill="#52706F"/>
<text x="656.90" y="118.40" font-size="4.0" fill="#000" stroke="#000" stroke-width="0.07" text-anchor="start" >Non−Remitter</text>
<rect x="646.80" y="120.80" width="6.20" height="7.60" fill="#EBEBEB" />
<rect x="646.80" y="120.80" width="6.20" height="7.60" fill="#12A58A" fill-opacity="0.5"/>
<line x1="647.00" y1="124.60" x2="652.80" y2="124.60" stroke="#1B8C7A" stroke-width="0.35" stroke-opacity="0.6"/>
<circle cx="649.9" cy="124.60" r="0.8" fill="#1B8C7A"/>
<text x="656.90" y="126.00" font-size="4.0" fill="#000" stroke="#000" stroke-width="0.07" text-anchor="start" >Remitter</text>
</svg>
</body></html>
